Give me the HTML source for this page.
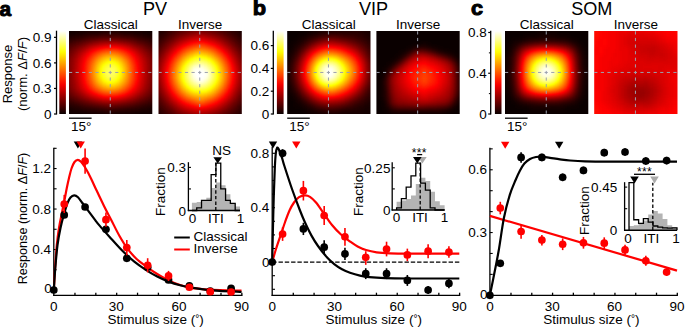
<!DOCTYPE html>
<html lang="en"><head><meta charset="utf-8"><title>Figure</title>
<style>html,body{margin:0;padding:0;background:#fff}svg{display:block}text{font-family:"Liberation Sans",sans-serif;fill:#000}</style></head><body>
<svg width="685" height="328" viewBox="0 0 685 328">
<defs>
<filter id="hot" x="-5%" y="-5%" width="110%" height="110%" color-interpolation-filters="sRGB"><feGaussianBlur stdDeviation="2.6"/><feComponentTransfer><feFuncR type="table" tableValues="0.042 0.083 0.125 0.167 0.208 0.250 0.292 0.333 0.375 0.417 0.458 0.500 0.542 0.583 0.625 0.667 0.708 0.750 0.792 0.833 0.875 0.917 0.958 1.000 1.000 1.000 1.000 1.000 1.000 1.000 1.000 1.000 1.000 1.000 1.000 1.000 1.000 1.000 1.000 1.000 1.000 1.000 1.000 1.000 1.000 1.000 1.000 1.000 1.000 1.000 1.000 1.000 1.000 1.000 1.000 1.000 1.000 1.000 1.000 1.000 1.000 1.000 1.000 1.000"/><feFuncG type="table" tableValues="0.000 0.000 0.000 0.000 0.000 0.000 0.000 0.000 0.000 0.000 0.000 0.000 0.000 0.000 0.000 0.000 0.000 0.000 0.000 0.000 0.000 0.000 0.000 0.000 0.042 0.083 0.125 0.167 0.208 0.250 0.292 0.333 0.375 0.417 0.458 0.500 0.542 0.583 0.625 0.667 0.708 0.750 0.792 0.833 0.875 0.917 0.958 1.000 1.000 1.000 1.000 1.000 1.000 1.000 1.000 1.000 1.000 1.000 1.000 1.000 1.000 1.000 1.000 1.000"/><feFuncB type="table" tableValues="0.000 0.000 0.000 0.000 0.000 0.000 0.000 0.000 0.000 0.000 0.000 0.000 0.000 0.000 0.000 0.000 0.000 0.000 0.000 0.000 0.000 0.000 0.000 0.000 0.000 0.000 0.000 0.000 0.000 0.000 0.000 0.000 0.000 0.000 0.000 0.000 0.000 0.000 0.000 0.000 0.000 0.000 0.000 0.000 0.000 0.000 0.000 0.000 0.062 0.125 0.187 0.250 0.312 0.375 0.437 0.500 0.562 0.625 0.687 0.750 0.812 0.875 0.937 1.000"/><feFuncA type="linear" slope="0" intercept="1"/></feComponentTransfer></filter>
<linearGradient id="cbar" x1="0" y1="1" x2="0" y2="0"><stop offset="0" stop-color="#0b0000"/><stop offset="0.05" stop-color="#2c0000"/><stop offset="0.1" stop-color="#4e0000"/><stop offset="0.15" stop-color="#6f0000"/><stop offset="0.2" stop-color="#900000"/><stop offset="0.25" stop-color="#b20000"/><stop offset="0.3" stop-color="#d30000"/><stop offset="0.35" stop-color="#f50000"/><stop offset="0.4" stop-color="#ff1700"/><stop offset="0.45" stop-color="#ff3900"/><stop offset="0.5" stop-color="#ff5a00"/><stop offset="0.55" stop-color="#ff7c00"/><stop offset="0.6" stop-color="#ff9d00"/><stop offset="0.65" stop-color="#ffbf00"/><stop offset="0.7" stop-color="#ffe000"/><stop offset="0.75" stop-color="#ffff04"/><stop offset="0.8" stop-color="#ffff36"/><stop offset="0.85" stop-color="#ffff68"/><stop offset="0.9" stop-color="#ffff9b"/><stop offset="0.95" stop-color="#ffffcd"/><stop offset="1" stop-color="#ffffff"/></linearGradient>
</defs>
<rect width="685" height="328" fill="#fff"/>
<text x="-0.5" y="15.5" font-size="20.2" font-weight="bold" stroke="#000" stroke-width="1.0" stroke-linejoin="round" transform="translate(-0.5 0) scale(1.03 1) translate(0.5 0)">a</text>
<text x="252.7" y="15.3" font-size="21" font-weight="bold" stroke="#000" stroke-width="1.0" stroke-linejoin="round" transform="translate(252.7 0) scale(1.04 1) translate(-252.7 0)">b</text>
<text x="470.9" y="15.2" font-size="20.2" font-weight="bold" stroke="#000" stroke-width="1.0" stroke-linejoin="round" transform="translate(470.9 0) scale(1.07 1) translate(-470.9 0)">c</text>
<text x="155" y="15" text-anchor="middle" font-size="18.1">PV</text>
<text x="110.65" y="28.6" text-anchor="middle" font-size="13.5">Classical</text>
<clipPath id="cpa0"><rect x="69" y="31" width="83.3" height="83"/></clipPath>
<g clip-path="url(#cpa0)"><g filter="url(#hot)">
<rect x="57" y="19" width="108" height="108" fill="#000"/>
<path fill="#000000" d="M57 19h108v4h-108zM57 23h108v4h-108zM57 27h20v4h-20zM145 27h20v4h-20zM57 111h4v4h-4zM157 111h8v4h-8zM57 115h32v4h-32zM133 115h32v4h-32zM57 119h108v4h-108zM57 123h108v4h-108z"/>
<path fill="#030303" d="M77 27h68v4h-68zM57 31h16v4h-16zM145 31h20v4h-20zM57 35h4v4h-4zM161 35h4v4h-4zM57 107h8v4h-8zM157 107h8v4h-8zM61 111h24v4h-24zM137 111h20v4h-20zM89 115h44v4h-44z"/>
<path fill="#050505" d="M73 31h12v4h-12zM133 31h12v4h-12zM61 35h8v4h-8zM153 35h8v4h-8zM161 39h4v4h-4zM57 103h4v4h-4zM161 103h4v4h-4zM65 107h8v4h-8zM149 107h8v4h-8zM85 111h20v4h-20zM113 111h24v4h-24z"/>
<path fill="#080808" d="M85 31h16v4h-16zM121 31h12v4h-12zM69 35h4v4h-4zM145 35h8v4h-8zM57 39h8v4h-8zM157 39h4v4h-4zM57 99h4v4h-4zM161 99h4v4h-4zM61 103h8v4h-8zM153 103h8v4h-8zM73 107h8v4h-8zM141 107h8v4h-8zM105 111h8v4h-8z"/>
<path fill="#0b0b0b" d="M101 31h20v4h-20zM73 35h8v4h-8zM141 35h4v4h-4zM65 39h4v4h-4zM153 39h4v4h-4zM57 43h4v4h-4zM161 43h4v4h-4zM157 99h4v4h-4zM69 103h4v4h-4zM149 103h4v4h-4zM81 107h8v4h-8zM133 107h8v4h-8z"/>
<path fill="#0d0d0d" d="M81 35h4v4h-4zM137 35h4v4h-4zM149 39h4v4h-4zM61 43h4v4h-4zM157 43h4v4h-4zM161 47h4v4h-4zM57 95h4v4h-4zM161 95h4v4h-4zM61 99h4v4h-4zM73 103h4v4h-4zM145 103h4v4h-4zM89 107h8v4h-8zM125 107h8v4h-8z"/>
<path fill="#101010" d="M85 35h4v4h-4zM133 35h4v4h-4zM69 39h4v4h-4zM57 47h4v4h-4zM161 51h4v4h-4zM57 91h4v4h-4zM161 91h4v4h-4zM157 95h4v4h-4zM65 99h4v4h-4zM153 99h4v4h-4zM77 103h4v4h-4zM141 103h4v4h-4zM97 107h8v4h-8zM117 107h8v4h-8z"/>
<path fill="#131313" d="M89 35h8v4h-8zM125 35h8v4h-8zM73 39h4v4h-4zM145 39h4v4h-4zM65 43h4v4h-4zM153 43h4v4h-4zM61 47h4v4h-4zM157 47h4v4h-4zM57 51h4v4h-4zM161 55h4v4h-4zM57 87h4v4h-4zM161 87h4v4h-4zM61 95h4v4h-4zM69 99h4v4h-4zM149 99h4v4h-4zM137 103h4v4h-4zM105 107h12v4h-12z"/>
<path fill="#151515" d="M97 35h4v4h-4zM121 35h4v4h-4zM77 39h4v4h-4zM141 39h4v4h-4zM149 43h4v4h-4zM57 55h4v4h-4zM57 59h4v4h-4zM161 59h4v4h-4zM57 63h4v4h-4zM161 63h4v4h-4zM57 67h4v4h-4zM161 67h4v4h-4zM57 71h4v4h-4zM161 71h4v4h-4zM57 75h4v4h-4zM161 75h4v4h-4zM57 79h4v4h-4zM161 79h4v4h-4zM57 83h4v4h-4zM161 83h4v4h-4zM61 91h4v4h-4zM157 91h4v4h-4zM65 95h4v4h-4zM153 95h4v4h-4zM81 103h4v4h-4z"/>
<path fill="#181818" d="M101 35h20v4h-20zM137 39h4v4h-4zM69 43h4v4h-4zM65 47h4v4h-4zM153 47h4v4h-4zM61 51h4v4h-4zM157 51h4v4h-4zM157 87h4v4h-4zM73 99h4v4h-4zM145 99h4v4h-4zM85 103h4v4h-4zM133 103h4v4h-4z"/>
<path fill="#1b1b1b" d="M81 39h4v4h-4zM145 43h4v4h-4zM61 55h4v4h-4zM157 55h4v4h-4zM157 59h4v4h-4zM157 63h4v4h-4zM157 75h4v4h-4zM157 79h4v4h-4zM157 83h4v4h-4zM61 87h4v4h-4zM153 91h4v4h-4zM149 95h4v4h-4zM89 103h4v4h-4zM129 103h4v4h-4z"/>
<path fill="#1e1e1e" d="M85 39h4v4h-4zM133 39h4v4h-4zM73 43h4v4h-4zM149 47h4v4h-4zM153 51h4v4h-4zM61 59h4v4h-4zM61 63h4v4h-4zM61 67h4v4h-4zM157 67h4v4h-4zM61 71h4v4h-4zM157 71h4v4h-4zM61 75h4v4h-4zM61 79h4v4h-4zM61 83h4v4h-4zM65 91h4v4h-4zM69 95h4v4h-4zM77 99h4v4h-4zM141 99h4v4h-4zM93 103h4v4h-4zM125 103h4v4h-4z"/>
<path fill="#202020" d="M69 47h4v4h-4zM65 51h4v4h-4zM153 55h4v4h-4zM153 87h4v4h-4zM97 103h4v4h-4zM121 103h4v4h-4z"/>
<path fill="#232323" d="M89 39h4v4h-4zM129 39h4v4h-4zM77 43h4v4h-4zM141 43h4v4h-4zM65 55h4v4h-4zM153 59h4v4h-4zM153 79h4v4h-4zM153 83h4v4h-4zM65 87h4v4h-4zM149 91h4v4h-4zM73 95h4v4h-4zM145 95h4v4h-4zM81 99h4v4h-4zM137 99h4v4h-4zM101 103h4v4h-4zM117 103h4v4h-4z"/>
<path fill="#262626" d="M93 39h4v4h-4zM125 39h4v4h-4zM145 47h4v4h-4zM149 51h4v4h-4zM65 59h4v4h-4zM65 63h4v4h-4zM153 63h4v4h-4zM65 67h4v4h-4zM153 67h4v4h-4zM65 71h4v4h-4zM153 71h4v4h-4zM65 75h4v4h-4zM153 75h4v4h-4zM65 79h4v4h-4zM65 83h4v4h-4zM69 91h4v4h-4zM105 103h12v4h-12z"/>
<path fill="#282828" d="M121 39h4v4h-4zM81 43h4v4h-4zM137 43h4v4h-4zM73 47h4v4h-4zM69 51h4v4h-4zM149 87h4v4h-4zM141 95h4v4h-4zM85 99h4v4h-4zM133 99h4v4h-4z"/>
<path fill="#2b2b2b" d="M97 39h4v4h-4zM117 39h4v4h-4zM69 55h4v4h-4zM149 55h4v4h-4zM149 83h4v4h-4zM69 87h4v4h-4zM145 91h4v4h-4zM77 95h4v4h-4z"/>
<path fill="#2e2e2e" d="M101 39h16v4h-16zM133 43h4v4h-4zM141 47h4v4h-4zM145 51h4v4h-4zM149 59h4v4h-4zM149 63h4v4h-4zM149 67h4v4h-4zM149 71h4v4h-4zM149 75h4v4h-4zM149 79h4v4h-4zM69 83h4v4h-4zM73 91h4v4h-4zM89 99h4v4h-4zM129 99h4v4h-4z"/>
<path fill="#303030" d="M85 43h4v4h-4zM77 47h4v4h-4zM73 51h4v4h-4zM69 59h4v4h-4zM69 63h4v4h-4zM69 67h4v4h-4zM69 71h4v4h-4zM69 75h4v4h-4zM69 79h4v4h-4zM137 95h4v4h-4z"/>
<path fill="#333333" d="M145 87h4v4h-4zM81 95h4v4h-4zM93 99h4v4h-4zM125 99h4v4h-4z"/>
<path fill="#363636" d="M129 43h4v4h-4zM73 55h4v4h-4zM145 55h4v4h-4zM145 83h4v4h-4zM73 87h4v4h-4zM77 91h4v4h-4zM141 91h4v4h-4z"/>
<path fill="#383838" d="M89 43h4v4h-4zM81 47h4v4h-4zM137 47h4v4h-4zM141 51h4v4h-4zM145 59h4v4h-4zM145 79h4v4h-4zM73 83h4v4h-4zM97 99h4v4h-4zM121 99h4v4h-4z"/>
<path fill="#3b3b3b" d="M77 51h4v4h-4zM73 59h4v4h-4zM73 63h4v4h-4zM145 63h4v4h-4zM145 67h4v4h-4zM145 71h4v4h-4zM145 75h4v4h-4zM73 79h4v4h-4zM85 95h4v4h-4zM133 95h4v4h-4zM117 99h4v4h-4z"/>
<path fill="#3e3e3e" d="M93 43h4v4h-4zM125 43h4v4h-4zM73 67h4v4h-4zM73 71h4v4h-4zM73 75h4v4h-4zM141 87h4v4h-4zM101 99h4v4h-4zM113 99h4v4h-4z"/>
<path fill="#404040" d="M133 47h4v4h-4zM141 55h4v4h-4zM77 87h4v4h-4zM81 91h4v4h-4zM137 91h4v4h-4zM105 99h8v4h-8z"/>
<path fill="#434343" d="M97 43h4v4h-4zM121 43h4v4h-4zM85 47h4v4h-4zM137 51h4v4h-4zM77 55h4v4h-4zM141 83h4v4h-4zM89 95h4v4h-4zM129 95h4v4h-4z"/>
<path fill="#464646" d="M81 51h4v4h-4zM141 59h4v4h-4zM141 79h4v4h-4zM77 83h4v4h-4z"/>
<path fill="#484848" d="M101 43h4v4h-4zM117 43h4v4h-4zM77 59h4v4h-4zM141 63h4v4h-4zM141 67h4v4h-4zM141 71h4v4h-4zM141 75h4v4h-4zM77 79h4v4h-4z"/>
<path fill="#4b4b4b" d="M105 43h12v4h-12zM129 47h4v4h-4zM77 63h4v4h-4zM77 67h4v4h-4zM77 71h4v4h-4zM77 75h4v4h-4zM137 87h4v4h-4zM133 91h4v4h-4zM93 95h4v4h-4zM125 95h4v4h-4z"/>
<path fill="#4e4e4e" d="M89 47h4v4h-4zM137 55h4v4h-4zM81 87h4v4h-4zM85 91h4v4h-4z"/>
<path fill="#515151" d="M133 51h4v4h-4zM81 55h4v4h-4zM137 83h4v4h-4z"/>
<path fill="#535353" d="M85 51h4v4h-4zM137 59h4v4h-4zM81 83h4v4h-4zM97 95h4v4h-4zM121 95h4v4h-4z"/>
<path fill="#565656" d="M93 47h4v4h-4zM125 47h4v4h-4zM81 59h4v4h-4zM137 63h4v4h-4zM137 79h4v4h-4zM129 91h4v4h-4z"/>
<path fill="#595959" d="M137 67h4v4h-4zM137 71h4v4h-4zM137 75h4v4h-4zM81 79h4v4h-4zM133 87h4v4h-4zM89 91h4v4h-4zM117 95h4v4h-4z"/>
<path fill="#5b5b5b" d="M133 55h4v4h-4zM81 63h4v4h-4zM81 67h4v4h-4zM81 71h4v4h-4zM81 75h4v4h-4zM85 87h4v4h-4zM101 95h4v4h-4z"/>
<path fill="#5e5e5e" d="M97 47h4v4h-4zM121 47h4v4h-4zM129 51h4v4h-4zM85 55h4v4h-4zM105 95h12v4h-12z"/>
<path fill="#616161" d="M89 51h4v4h-4zM133 83h4v4h-4z"/>
<path fill="#636363" d="M133 59h4v4h-4zM85 83h4v4h-4zM93 91h4v4h-4zM125 91h4v4h-4z"/>
<path fill="#666666" d="M101 47h4v4h-4zM117 47h4v4h-4zM129 87h4v4h-4z"/>
<path fill="#696969" d="M85 59h4v4h-4zM133 63h4v4h-4zM133 79h4v4h-4zM89 87h4v4h-4z"/>
<path fill="#6b6b6b" d="M105 47h12v4h-12zM125 51h4v4h-4zM129 55h4v4h-4zM85 63h4v4h-4zM133 67h4v4h-4zM133 71h4v4h-4zM133 75h4v4h-4zM85 79h4v4h-4z"/>
<path fill="#6e6e6e" d="M93 51h4v4h-4zM89 55h4v4h-4zM85 67h4v4h-4zM85 71h4v4h-4zM85 75h4v4h-4zM97 91h4v4h-4zM121 91h4v4h-4z"/>
<path fill="#737373" d="M129 83h4v4h-4z"/>
<path fill="#767676" d="M121 51h4v4h-4zM129 59h4v4h-4zM89 83h4v4h-4zM125 87h4v4h-4zM117 91h4v4h-4z"/>
<path fill="#797979" d="M97 51h4v4h-4zM89 59h4v4h-4zM93 87h4v4h-4zM101 91h4v4h-4z"/>
<path fill="#7b7b7b" d="M125 55h4v4h-4zM129 79h4v4h-4zM113 91h4v4h-4z"/>
<path fill="#7e7e7e" d="M93 55h4v4h-4zM129 63h4v4h-4zM89 79h4v4h-4zM105 91h8v4h-8z"/>
<path fill="#818181" d="M117 51h4v4h-4zM89 63h4v4h-4zM129 67h4v4h-4zM129 71h4v4h-4zM129 75h4v4h-4z"/>
<path fill="#848484" d="M101 51h4v4h-4zM89 67h4v4h-4zM89 75h4v4h-4zM121 87h4v4h-4z"/>
<path fill="#868686" d="M89 71h4v4h-4zM125 83h4v4h-4zM97 87h4v4h-4z"/>
<path fill="#898989" d="M105 51h4v4h-4zM113 51h4v4h-4zM93 83h4v4h-4z"/>
<path fill="#8c8c8c" d="M109 51h4v4h-4zM121 55h4v4h-4zM125 59h4v4h-4z"/>
<path fill="#8e8e8e" d="M97 55h4v4h-4zM93 59h4v4h-4z"/>
<path fill="#919191" d="M125 79h4v4h-4zM101 87h4v4h-4zM117 87h4v4h-4z"/>
<path fill="#949494" d="M125 63h4v4h-4zM93 79h4v4h-4z"/>
<path fill="#969696" d="M93 63h4v4h-4zM125 75h4v4h-4zM121 83h4v4h-4z"/>
<path fill="#999999" d="M117 55h4v4h-4zM125 67h4v4h-4zM125 71h4v4h-4zM97 83h4v4h-4zM105 87h4v4h-4zM113 87h4v4h-4z"/>
<path fill="#9c9c9c" d="M101 55h4v4h-4zM93 67h4v4h-4zM93 75h4v4h-4zM109 87h4v4h-4z"/>
<path fill="#9e9e9e" d="M121 59h4v4h-4zM93 71h4v4h-4z"/>
<path fill="#a1a1a1" d="M97 59h4v4h-4z"/>
<path fill="#a4a4a4" d="M105 55h4v4h-4zM113 55h4v4h-4zM121 79h4v4h-4z"/>
<path fill="#a6a6a6" d="M109 55h4v4h-4zM117 83h4v4h-4z"/>
<path fill="#a9a9a9" d="M121 63h4v4h-4zM97 79h4v4h-4zM101 83h4v4h-4z"/>
<path fill="#acacac" d="M97 63h4v4h-4z"/>
<path fill="#aeaeae" d="M101 59h4v4h-4zM117 59h4v4h-4zM121 75h4v4h-4z"/>
<path fill="#b1b1b1" d="M121 67h4v4h-4zM121 71h4v4h-4zM97 75h4v4h-4zM105 83h4v4h-4zM113 83h4v4h-4z"/>
<path fill="#b4b4b4" d="M97 67h4v4h-4zM97 71h4v4h-4zM109 83h4v4h-4z"/>
<path fill="#b7b7b7" d="M117 79h4v4h-4z"/>
<path fill="#b9b9b9" d="M105 59h4v4h-4zM113 59h4v4h-4zM101 79h4v4h-4z"/>
<path fill="#bcbcbc" d="M117 63h4v4h-4z"/>
<path fill="#bfbfbf" d="M109 59h4v4h-4zM101 63h4v4h-4z"/>
<path fill="#c1c1c1" d="M117 75h4v4h-4z"/>
<path fill="#c4c4c4" d="M117 67h4v4h-4zM101 75h4v4h-4zM105 79h4v4h-4zM113 79h4v4h-4z"/>
<path fill="#c7c7c7" d="M101 67h4v4h-4zM117 71h4v4h-4z"/>
<path fill="#c9c9c9" d="M105 63h4v4h-4zM113 63h4v4h-4zM101 71h4v4h-4zM109 79h4v4h-4z"/>
<path fill="#cfcfcf" d="M109 63h4v4h-4z"/>
<path fill="#d1d1d1" d="M105 75h4v4h-4zM113 75h4v4h-4z"/>
<path fill="#d4d4d4" d="M105 67h4v4h-4zM113 67h4v4h-4z"/>
<path fill="#d7d7d7" d="M105 71h4v4h-4zM113 71h4v4h-4zM109 75h4v4h-4z"/>
<path fill="#d9d9d9" d="M109 67h4v4h-4z"/>
<path fill="#dcdcdc" d="M109 71h4v4h-4z"/>
</g></g>
<line x1="69" y1="72.45" x2="152.3" y2="72.45" stroke="#9ba0ae" stroke-width="1" stroke-dasharray="3.2 3.4"/>
<line x1="110.25" y1="31" x2="110.25" y2="114" stroke="#9ba0ae" stroke-width="1" stroke-dasharray="3.2 3.4" stroke-dashoffset="-0.3"/>
<text x="200.15" y="28.6" text-anchor="middle" font-size="13.5">Inverse</text>
<clipPath id="cpa1"><rect x="158.5" y="31" width="83.3" height="83"/></clipPath>
<g clip-path="url(#cpa1)"><g filter="url(#hot)">
<rect x="146.5" y="19" width="108" height="108" fill="#000"/>
<path fill="#000000" d="M146.5 19h8v4h-8zM246.5 19h8v4h-8zM146.5 23h4v4h-4zM250.5 23h4v4h-4zM146.5 123h4v4h-4zM250.5 123h4v4h-4z"/>
<path fill="#030303" d="M154.5 19h12v4h-12zM234.5 19h12v4h-12zM150.5 23h8v4h-8zM238.5 23h12v4h-12zM146.5 27h8v4h-8zM246.5 27h8v4h-8zM146.5 31h4v4h-4zM250.5 31h4v4h-4zM250.5 35h4v4h-4zM146.5 111h4v4h-4zM250.5 111h4v4h-4zM146.5 115h4v4h-4zM246.5 115h8v4h-8zM146.5 119h8v4h-8zM242.5 119h12v4h-12zM150.5 123h12v4h-12zM238.5 123h12v4h-12z"/>
<path fill="#050505" d="M166.5 19h8v4h-8zM226.5 19h8v4h-8zM158.5 23h8v4h-8zM234.5 23h4v4h-4zM154.5 27h8v4h-8zM238.5 27h8v4h-8zM150.5 31h4v4h-4zM242.5 31h8v4h-8zM146.5 35h8v4h-8zM246.5 35h4v4h-4zM146.5 39h4v4h-4zM250.5 39h4v4h-4zM146.5 107h4v4h-4zM250.5 107h4v4h-4zM150.5 111h4v4h-4zM246.5 111h4v4h-4zM150.5 115h8v4h-8zM242.5 115h4v4h-4zM154.5 119h8v4h-8zM238.5 119h4v4h-4zM162.5 123h4v4h-4zM234.5 123h4v4h-4z"/>
<path fill="#080808" d="M174.5 19h4v4h-4zM222.5 19h4v4h-4zM166.5 23h4v4h-4zM230.5 23h4v4h-4zM162.5 27h4v4h-4zM234.5 27h4v4h-4zM154.5 31h4v4h-4zM238.5 31h4v4h-4zM242.5 35h4v4h-4zM150.5 39h4v4h-4zM246.5 39h4v4h-4zM146.5 43h4v4h-4zM250.5 43h4v4h-4zM250.5 47h4v4h-4zM250.5 99h4v4h-4zM146.5 103h4v4h-4zM250.5 103h4v4h-4zM150.5 107h4v4h-4zM246.5 107h4v4h-4zM154.5 111h4v4h-4zM242.5 111h4v4h-4zM158.5 115h4v4h-4zM238.5 115h4v4h-4zM162.5 119h4v4h-4zM234.5 119h4v4h-4zM166.5 123h4v4h-4zM226.5 123h8v4h-8z"/>
<path fill="#0b0b0b" d="M178.5 19h8v4h-8zM214.5 19h8v4h-8zM170.5 23h4v4h-4zM226.5 23h4v4h-4zM230.5 27h4v4h-4zM158.5 31h4v4h-4zM154.5 35h4v4h-4zM150.5 43h4v4h-4zM246.5 43h4v4h-4zM146.5 47h4v4h-4zM250.5 51h4v4h-4zM146.5 95h4v4h-4zM250.5 95h4v4h-4zM146.5 99h4v4h-4zM150.5 103h4v4h-4zM246.5 103h4v4h-4zM242.5 107h4v4h-4zM234.5 115h4v4h-4zM166.5 119h4v4h-4zM230.5 119h4v4h-4zM170.5 123h8v4h-8zM222.5 123h4v4h-4z"/>
<path fill="#0d0d0d" d="M186.5 19h28v4h-28zM174.5 23h4v4h-4zM222.5 23h4v4h-4zM166.5 27h4v4h-4zM162.5 31h4v4h-4zM234.5 31h4v4h-4zM158.5 35h4v4h-4zM238.5 35h4v4h-4zM154.5 39h4v4h-4zM242.5 39h4v4h-4zM246.5 47h4v4h-4zM146.5 51h4v4h-4zM250.5 55h4v4h-4zM146.5 91h4v4h-4zM250.5 91h4v4h-4zM150.5 99h4v4h-4zM246.5 99h4v4h-4zM154.5 107h4v4h-4zM158.5 111h4v4h-4zM238.5 111h4v4h-4zM162.5 115h4v4h-4zM170.5 119h4v4h-4zM226.5 119h4v4h-4zM178.5 123h4v4h-4zM218.5 123h4v4h-4z"/>
<path fill="#101010" d="M178.5 23h4v4h-4zM218.5 23h4v4h-4zM170.5 27h4v4h-4zM226.5 27h4v4h-4zM230.5 31h4v4h-4zM242.5 43h4v4h-4zM150.5 47h4v4h-4zM146.5 55h4v4h-4zM146.5 59h4v4h-4zM250.5 59h4v4h-4zM250.5 63h4v4h-4zM250.5 83h4v4h-4zM146.5 87h4v4h-4zM250.5 87h4v4h-4zM246.5 95h4v4h-4zM154.5 103h4v4h-4zM242.5 103h4v4h-4zM238.5 107h4v4h-4zM234.5 111h4v4h-4zM166.5 115h4v4h-4zM230.5 115h4v4h-4zM222.5 119h4v4h-4zM182.5 123h4v4h-4zM214.5 123h4v4h-4z"/>
<path fill="#131313" d="M182.5 23h8v4h-8zM210.5 23h8v4h-8zM174.5 27h4v4h-4zM222.5 27h4v4h-4zM166.5 31h4v4h-4zM162.5 35h4v4h-4zM234.5 35h4v4h-4zM158.5 39h4v4h-4zM238.5 39h4v4h-4zM154.5 43h4v4h-4zM150.5 51h4v4h-4zM246.5 51h4v4h-4zM146.5 63h4v4h-4zM146.5 67h4v4h-4zM250.5 67h4v4h-4zM250.5 71h4v4h-4zM250.5 75h4v4h-4zM146.5 79h4v4h-4zM250.5 79h4v4h-4zM146.5 83h4v4h-4zM246.5 91h4v4h-4zM150.5 95h4v4h-4zM242.5 99h4v4h-4zM158.5 107h4v4h-4zM162.5 111h4v4h-4zM174.5 119h4v4h-4zM186.5 123h8v4h-8zM206.5 123h8v4h-8z"/>
<path fill="#151515" d="M190.5 23h4v4h-4zM202.5 23h8v4h-8zM218.5 27h4v4h-4zM226.5 31h4v4h-4zM154.5 47h4v4h-4zM242.5 47h4v4h-4zM150.5 55h4v4h-4zM246.5 55h4v4h-4zM146.5 71h4v4h-4zM146.5 75h4v4h-4zM150.5 91h4v4h-4zM154.5 99h4v4h-4zM238.5 103h4v4h-4zM230.5 111h4v4h-4zM170.5 115h4v4h-4zM226.5 115h4v4h-4zM178.5 119h4v4h-4zM218.5 119h4v4h-4zM194.5 123h12v4h-12z"/>
<path fill="#181818" d="M194.5 23h8v4h-8zM178.5 27h4v4h-4zM170.5 31h4v4h-4zM166.5 35h4v4h-4zM230.5 35h4v4h-4zM234.5 39h4v4h-4zM158.5 43h4v4h-4zM238.5 43h4v4h-4zM246.5 59h4v4h-4zM150.5 87h4v4h-4zM246.5 87h4v4h-4zM242.5 95h4v4h-4zM158.5 103h4v4h-4zM162.5 107h4v4h-4zM234.5 107h4v4h-4zM166.5 111h4v4h-4zM182.5 119h4v4h-4zM214.5 119h4v4h-4z"/>
<path fill="#1b1b1b" d="M182.5 27h4v4h-4zM214.5 27h4v4h-4zM222.5 31h4v4h-4zM162.5 39h4v4h-4zM154.5 51h4v4h-4zM242.5 51h4v4h-4zM150.5 59h4v4h-4zM246.5 63h4v4h-4zM246.5 67h4v4h-4zM246.5 79h4v4h-4zM150.5 83h4v4h-4zM246.5 83h4v4h-4zM154.5 95h4v4h-4zM174.5 115h4v4h-4zM222.5 115h4v4h-4zM186.5 119h4v4h-4zM210.5 119h4v4h-4z"/>
<path fill="#1e1e1e" d="M186.5 27h4v4h-4zM210.5 27h4v4h-4zM174.5 31h4v4h-4zM238.5 47h4v4h-4zM242.5 55h4v4h-4zM150.5 63h4v4h-4zM150.5 67h4v4h-4zM246.5 71h4v4h-4zM246.5 75h4v4h-4zM150.5 79h4v4h-4zM242.5 91h4v4h-4zM158.5 99h4v4h-4zM238.5 99h4v4h-4zM234.5 103h4v4h-4zM170.5 111h4v4h-4zM226.5 111h4v4h-4zM218.5 115h4v4h-4zM190.5 119h4v4h-4zM206.5 119h4v4h-4z"/>
<path fill="#202020" d="M190.5 27h4v4h-4zM206.5 27h4v4h-4zM218.5 31h4v4h-4zM170.5 35h4v4h-4zM226.5 35h4v4h-4zM230.5 39h4v4h-4zM234.5 43h4v4h-4zM158.5 47h4v4h-4zM154.5 55h4v4h-4zM150.5 71h4v4h-4zM150.5 75h4v4h-4zM154.5 91h4v4h-4zM162.5 103h4v4h-4zM166.5 107h4v4h-4zM230.5 107h4v4h-4zM178.5 115h4v4h-4zM194.5 119h12v4h-12z"/>
<path fill="#232323" d="M194.5 27h12v4h-12zM178.5 31h4v4h-4zM166.5 39h4v4h-4zM162.5 43h4v4h-4zM242.5 59h4v4h-4zM242.5 87h4v4h-4zM238.5 95h4v4h-4zM222.5 111h4v4h-4zM214.5 115h4v4h-4z"/>
<path fill="#262626" d="M214.5 31h4v4h-4zM222.5 35h4v4h-4zM238.5 51h4v4h-4zM154.5 59h4v4h-4zM242.5 63h4v4h-4zM242.5 83h4v4h-4zM154.5 87h4v4h-4zM158.5 95h4v4h-4zM174.5 111h4v4h-4zM182.5 115h4v4h-4z"/>
<path fill="#282828" d="M182.5 31h4v4h-4zM174.5 35h4v4h-4zM234.5 47h4v4h-4zM158.5 51h4v4h-4zM154.5 63h4v4h-4zM242.5 67h4v4h-4zM242.5 79h4v4h-4zM154.5 83h4v4h-4zM162.5 99h4v4h-4zM234.5 99h4v4h-4zM230.5 103h4v4h-4zM170.5 107h4v4h-4zM226.5 107h4v4h-4zM186.5 115h4v4h-4zM210.5 115h4v4h-4z"/>
<path fill="#2b2b2b" d="M186.5 31h4v4h-4zM210.5 31h4v4h-4zM170.5 39h4v4h-4zM226.5 39h4v4h-4zM230.5 43h4v4h-4zM162.5 47h4v4h-4zM238.5 55h4v4h-4zM154.5 67h4v4h-4zM242.5 71h4v4h-4zM242.5 75h4v4h-4zM154.5 79h4v4h-4zM238.5 91h4v4h-4zM166.5 103h4v4h-4zM218.5 111h4v4h-4zM206.5 115h4v4h-4z"/>
<path fill="#2e2e2e" d="M206.5 31h4v4h-4zM218.5 35h4v4h-4zM166.5 43h4v4h-4zM158.5 55h4v4h-4zM154.5 71h4v4h-4zM154.5 75h4v4h-4zM158.5 91h4v4h-4zM178.5 111h4v4h-4zM190.5 115h8v4h-8zM202.5 115h4v4h-4z"/>
<path fill="#303030" d="M190.5 31h4v4h-4zM202.5 31h4v4h-4zM178.5 35h4v4h-4zM238.5 59h4v4h-4zM238.5 87h4v4h-4zM234.5 95h4v4h-4zM222.5 107h4v4h-4zM198.5 115h4v4h-4z"/>
<path fill="#333333" d="M194.5 31h8v4h-8zM222.5 39h4v4h-4zM234.5 51h4v4h-4zM158.5 87h4v4h-4zM162.5 95h4v4h-4zM230.5 99h4v4h-4zM226.5 103h4v4h-4zM174.5 107h4v4h-4zM182.5 111h4v4h-4zM214.5 111h4v4h-4z"/>
<path fill="#363636" d="M182.5 35h4v4h-4zM214.5 35h4v4h-4zM174.5 39h4v4h-4zM226.5 43h4v4h-4zM230.5 47h4v4h-4zM162.5 51h4v4h-4zM158.5 59h4v4h-4zM238.5 63h4v4h-4zM238.5 83h4v4h-4zM166.5 99h4v4h-4zM170.5 103h4v4h-4z"/>
<path fill="#383838" d="M170.5 43h4v4h-4zM166.5 47h4v4h-4zM238.5 79h4v4h-4zM158.5 83h4v4h-4zM234.5 91h4v4h-4zM186.5 111h4v4h-4zM210.5 111h4v4h-4z"/>
<path fill="#3b3b3b" d="M210.5 35h4v4h-4zM234.5 55h4v4h-4zM158.5 63h4v4h-4zM238.5 67h4v4h-4zM238.5 71h4v4h-4zM238.5 75h4v4h-4zM162.5 91h4v4h-4zM218.5 107h4v4h-4z"/>
<path fill="#3e3e3e" d="M186.5 35h4v4h-4zM218.5 39h4v4h-4zM162.5 55h4v4h-4zM158.5 67h4v4h-4zM158.5 79h4v4h-4zM178.5 107h4v4h-4zM190.5 111h4v4h-4zM206.5 111h4v4h-4z"/>
<path fill="#404040" d="M206.5 35h4v4h-4zM178.5 39h4v4h-4zM230.5 51h4v4h-4zM158.5 71h4v4h-4zM158.5 75h4v4h-4zM234.5 87h4v4h-4zM230.5 95h4v4h-4zM222.5 103h4v4h-4zM194.5 111h12v4h-12z"/>
<path fill="#434343" d="M190.5 35h4v4h-4zM222.5 43h4v4h-4zM234.5 59h4v4h-4zM166.5 95h4v4h-4zM226.5 99h4v4h-4zM174.5 103h4v4h-4zM214.5 107h4v4h-4z"/>
<path fill="#464646" d="M194.5 35h12v4h-12zM174.5 43h4v4h-4zM226.5 47h4v4h-4zM166.5 51h4v4h-4zM162.5 59h4v4h-4zM162.5 87h4v4h-4zM170.5 99h4v4h-4zM182.5 107h4v4h-4z"/>
<path fill="#484848" d="M182.5 39h4v4h-4zM214.5 39h4v4h-4zM170.5 47h4v4h-4zM234.5 63h4v4h-4zM234.5 83h4v4h-4z"/>
<path fill="#4b4b4b" d="M162.5 83h4v4h-4zM230.5 91h4v4h-4zM218.5 103h4v4h-4zM210.5 107h4v4h-4z"/>
<path fill="#4e4e4e" d="M230.5 55h4v4h-4zM162.5 63h4v4h-4zM234.5 67h4v4h-4zM234.5 79h4v4h-4zM166.5 91h4v4h-4zM178.5 103h4v4h-4zM186.5 107h4v4h-4z"/>
<path fill="#515151" d="M186.5 39h4v4h-4zM210.5 39h4v4h-4zM218.5 43h4v4h-4zM166.5 55h4v4h-4zM234.5 71h4v4h-4zM234.5 75h4v4h-4zM162.5 79h4v4h-4zM226.5 95h4v4h-4zM222.5 99h4v4h-4z"/>
<path fill="#535353" d="M178.5 43h4v4h-4zM222.5 47h4v4h-4zM226.5 51h4v4h-4zM162.5 67h4v4h-4zM162.5 75h4v4h-4zM170.5 95h4v4h-4zM174.5 99h4v4h-4zM190.5 107h4v4h-4zM206.5 107h4v4h-4z"/>
<path fill="#565656" d="M206.5 39h4v4h-4zM170.5 51h4v4h-4zM230.5 59h4v4h-4zM162.5 71h4v4h-4zM230.5 87h4v4h-4zM194.5 107h4v4h-4zM202.5 107h4v4h-4z"/>
<path fill="#595959" d="M190.5 39h4v4h-4zM174.5 47h4v4h-4zM166.5 87h4v4h-4zM214.5 103h4v4h-4zM198.5 107h4v4h-4z"/>
<path fill="#5b5b5b" d="M194.5 39h4v4h-4zM202.5 39h4v4h-4zM214.5 43h4v4h-4zM166.5 59h4v4h-4zM182.5 103h4v4h-4z"/>
<path fill="#5e5e5e" d="M198.5 39h4v4h-4zM182.5 43h4v4h-4zM230.5 83h4v4h-4zM226.5 91h4v4h-4z"/>
<path fill="#616161" d="M226.5 55h4v4h-4zM230.5 63h4v4h-4zM218.5 99h4v4h-4z"/>
<path fill="#636363" d="M218.5 47h4v4h-4zM166.5 63h4v4h-4zM230.5 79h4v4h-4zM166.5 83h4v4h-4zM170.5 91h4v4h-4zM222.5 95h4v4h-4zM178.5 99h4v4h-4zM186.5 103h4v4h-4zM210.5 103h4v4h-4z"/>
<path fill="#666666" d="M210.5 43h4v4h-4zM178.5 47h4v4h-4zM222.5 51h4v4h-4zM170.5 55h4v4h-4zM230.5 67h4v4h-4zM174.5 95h4v4h-4z"/>
<path fill="#696969" d="M186.5 43h4v4h-4zM174.5 51h4v4h-4zM230.5 71h4v4h-4zM230.5 75h4v4h-4zM166.5 79h4v4h-4z"/>
<path fill="#6b6b6b" d="M166.5 67h4v4h-4zM226.5 87h4v4h-4zM190.5 103h4v4h-4zM206.5 103h4v4h-4z"/>
<path fill="#6e6e6e" d="M206.5 43h4v4h-4zM226.5 59h4v4h-4zM166.5 71h4v4h-4zM166.5 75h4v4h-4zM214.5 99h4v4h-4z"/>
<path fill="#717171" d="M190.5 43h4v4h-4zM170.5 87h4v4h-4zM182.5 99h4v4h-4zM194.5 103h12v4h-12z"/>
<path fill="#737373" d="M214.5 47h4v4h-4zM170.5 59h4v4h-4zM222.5 91h4v4h-4zM218.5 95h4v4h-4z"/>
<path fill="#767676" d="M194.5 43h12v4h-12zM182.5 47h4v4h-4zM222.5 55h4v4h-4zM226.5 83h4v4h-4zM174.5 91h4v4h-4zM178.5 95h4v4h-4z"/>
<path fill="#797979" d="M218.5 51h4v4h-4zM226.5 63h4v4h-4z"/>
<path fill="#7b7b7b" d="M178.5 51h4v4h-4zM174.5 55h4v4h-4zM170.5 83h4v4h-4zM186.5 99h4v4h-4zM210.5 99h4v4h-4z"/>
<path fill="#7e7e7e" d="M170.5 63h4v4h-4zM226.5 67h4v4h-4zM226.5 79h4v4h-4z"/>
<path fill="#818181" d="M186.5 47h4v4h-4zM210.5 47h4v4h-4zM226.5 75h4v4h-4z"/>
<path fill="#848484" d="M170.5 67h4v4h-4zM226.5 71h4v4h-4zM170.5 79h4v4h-4zM222.5 87h4v4h-4zM214.5 95h4v4h-4zM206.5 99h4v4h-4z"/>
<path fill="#868686" d="M222.5 59h4v4h-4zM174.5 87h4v4h-4zM218.5 91h4v4h-4zM190.5 99h4v4h-4z"/>
<path fill="#898989" d="M206.5 47h4v4h-4zM214.5 51h4v4h-4zM174.5 59h4v4h-4zM170.5 71h4v4h-4zM170.5 75h4v4h-4zM182.5 95h4v4h-4z"/>
<path fill="#8c8c8c" d="M190.5 47h4v4h-4zM182.5 51h4v4h-4zM218.5 55h4v4h-4zM178.5 91h4v4h-4zM194.5 99h12v4h-12z"/>
<path fill="#8e8e8e" d="M178.5 55h4v4h-4zM222.5 83h4v4h-4z"/>
<path fill="#919191" d="M194.5 47h4v4h-4zM202.5 47h4v4h-4zM222.5 63h4v4h-4z"/>
<path fill="#949494" d="M198.5 47h4v4h-4zM174.5 83h4v4h-4zM210.5 95h4v4h-4z"/>
<path fill="#969696" d="M174.5 63h4v4h-4zM186.5 95h4v4h-4z"/>
<path fill="#999999" d="M210.5 51h4v4h-4zM222.5 67h4v4h-4zM222.5 79h4v4h-4zM218.5 87h4v4h-4z"/>
<path fill="#9c9c9c" d="M186.5 51h4v4h-4zM218.5 59h4v4h-4zM214.5 91h4v4h-4z"/>
<path fill="#9e9e9e" d="M214.5 55h4v4h-4zM174.5 67h4v4h-4zM222.5 71h4v4h-4zM222.5 75h4v4h-4zM174.5 79h4v4h-4zM178.5 87h4v4h-4zM182.5 91h4v4h-4zM206.5 95h4v4h-4z"/>
<path fill="#a1a1a1" d="M178.5 59h4v4h-4zM190.5 95h4v4h-4z"/>
<path fill="#a4a4a4" d="M206.5 51h4v4h-4zM182.5 55h4v4h-4zM174.5 71h4v4h-4zM174.5 75h4v4h-4z"/>
<path fill="#a6a6a6" d="M190.5 51h4v4h-4zM194.5 95h4v4h-4zM202.5 95h4v4h-4z"/>
<path fill="#a9a9a9" d="M218.5 83h4v4h-4zM198.5 95h4v4h-4z"/>
<path fill="#acacac" d="M202.5 51h4v4h-4zM218.5 63h4v4h-4zM178.5 83h4v4h-4zM210.5 91h4v4h-4z"/>
<path fill="#aeaeae" d="M194.5 51h8v4h-8zM214.5 87h4v4h-4zM186.5 91h4v4h-4z"/>
<path fill="#b1b1b1" d="M210.5 55h4v4h-4zM178.5 63h4v4h-4z"/>
<path fill="#b4b4b4" d="M186.5 55h4v4h-4zM214.5 59h4v4h-4zM218.5 67h4v4h-4zM218.5 79h4v4h-4zM182.5 87h4v4h-4z"/>
<path fill="#b7b7b7" d="M182.5 59h4v4h-4z"/>
<path fill="#b9b9b9" d="M178.5 67h4v4h-4zM218.5 71h4v4h-4zM218.5 75h4v4h-4zM178.5 79h4v4h-4zM206.5 91h4v4h-4z"/>
<path fill="#bcbcbc" d="M190.5 91h4v4h-4z"/>
<path fill="#bfbfbf" d="M206.5 55h4v4h-4zM178.5 71h4v4h-4zM178.5 75h4v4h-4zM214.5 83h4v4h-4z"/>
<path fill="#c1c1c1" d="M190.5 55h4v4h-4zM210.5 87h4v4h-4zM194.5 91h4v4h-4zM202.5 91h4v4h-4z"/>
<path fill="#c4c4c4" d="M214.5 63h4v4h-4zM182.5 83h4v4h-4zM186.5 87h4v4h-4zM198.5 91h4v4h-4z"/>
<path fill="#c7c7c7" d="M210.5 59h4v4h-4zM182.5 63h4v4h-4z"/>
<path fill="#c9c9c9" d="M194.5 55h4v4h-4zM202.5 55h4v4h-4zM186.5 59h4v4h-4z"/>
<path fill="#cccccc" d="M198.5 55h4v4h-4zM214.5 79h4v4h-4z"/>
<path fill="#cfcfcf" d="M214.5 67h4v4h-4z"/>
<path fill="#d1d1d1" d="M182.5 79h4v4h-4zM206.5 87h4v4h-4z"/>
<path fill="#d4d4d4" d="M182.5 67h4v4h-4zM214.5 71h4v4h-4zM214.5 75h4v4h-4zM210.5 83h4v4h-4zM190.5 87h4v4h-4z"/>
<path fill="#d7d7d7" d="M206.5 59h4v4h-4z"/>
<path fill="#d9d9d9" d="M190.5 59h4v4h-4zM210.5 63h4v4h-4zM182.5 71h4v4h-4zM182.5 75h4v4h-4zM186.5 83h4v4h-4z"/>
<path fill="#dcdcdc" d="M194.5 87h4v4h-4zM202.5 87h4v4h-4z"/>
<path fill="#dfdfdf" d="M186.5 63h4v4h-4zM198.5 87h4v4h-4z"/>
<path fill="#e1e1e1" d="M202.5 59h4v4h-4z"/>
<path fill="#e4e4e4" d="M194.5 59h4v4h-4zM210.5 79h4v4h-4z"/>
<path fill="#e7e7e7" d="M198.5 59h4v4h-4zM210.5 67h4v4h-4zM186.5 79h4v4h-4zM206.5 83h4v4h-4z"/>
<path fill="#eaeaea" d="M190.5 83h4v4h-4z"/>
<path fill="#ececec" d="M206.5 63h4v4h-4zM186.5 67h4v4h-4zM210.5 71h4v4h-4zM210.5 75h4v4h-4z"/>
<path fill="#efefef" d="M190.5 63h4v4h-4z"/>
<path fill="#f2f2f2" d="M186.5 71h4v4h-4zM186.5 75h4v4h-4zM202.5 83h4v4h-4z"/>
<path fill="#f4f4f4" d="M194.5 83h4v4h-4z"/>
<path fill="#f7f7f7" d="M206.5 79h4v4h-4zM198.5 83h4v4h-4z"/>
<path fill="#fafafa" d="M202.5 63h4v4h-4zM190.5 79h4v4h-4z"/>
<path fill="#fcfcfc" d="M194.5 63h4v4h-4zM206.5 67h4v4h-4z"/>
<path fill="#ffffff" d="M198.5 63h4v4h-4zM190.5 67h16v4h-16zM190.5 71h20v4h-20zM190.5 75h20v4h-20zM194.5 79h12v4h-12z"/>
</g></g>
<line x1="158.5" y1="72.45" x2="241.8" y2="72.45" stroke="#9ba0ae" stroke-width="1" stroke-dasharray="3.2 3.4"/>
<line x1="199.75" y1="31" x2="199.75" y2="114" stroke="#9ba0ae" stroke-width="1" stroke-dasharray="3.2 3.4" stroke-dashoffset="-0.3"/>
<rect x="59.3" y="31" width="6.6" height="83" fill="url(#cbar)"/>
<line x1="69" y1="118.2" x2="91.6" y2="118.2" stroke="#000" stroke-width="1.3"/>
<text x="71" y="130.6" text-anchor="start" font-size="13.5">15&#176;</text>
<text x="373.6" y="15" text-anchor="middle" font-size="18.1">VIP</text>
<text x="328.85" y="28.6" text-anchor="middle" font-size="13.5">Classical</text>
<clipPath id="cpb0"><rect x="287.2" y="31" width="83.3" height="83"/></clipPath>
<g clip-path="url(#cpb0)"><g filter="url(#hot)">
<rect x="275.2" y="19" width="108" height="108" fill="#000"/>
<path fill="#000000" d="M275.2 19h68v4h-68zM371.2 19h12v4h-12zM275.2 23h56v4h-56zM375.2 23h8v4h-8zM275.2 27h40v4h-40zM379.2 27h4v4h-4zM275.2 31h32v4h-32zM275.2 35h24v4h-24zM275.2 39h20v4h-20zM275.2 43h16v4h-16zM275.2 47h16v4h-16zM275.2 51h12v4h-12zM275.2 55h12v4h-12zM275.2 59h8v4h-8zM275.2 63h8v4h-8zM275.2 67h8v4h-8zM275.2 71h8v4h-8zM275.2 75h8v4h-8zM275.2 79h8v4h-8zM275.2 83h8v4h-8zM275.2 87h12v4h-12zM275.2 91h12v4h-12zM275.2 95h16v4h-16zM275.2 99h20v4h-20zM275.2 103h20v4h-20zM275.2 107h28v4h-28zM379.2 107h4v4h-4zM275.2 111h32v4h-32zM375.2 111h8v4h-8zM275.2 115h44v4h-44zM371.2 115h12v4h-12zM275.2 119h72v4h-72zM367.2 119h16v4h-16zM275.2 123h108v4h-108z"/>
<path fill="#030303" d="M343.2 19h28v4h-28zM331.2 23h20v4h-20zM363.2 23h12v4h-12zM315.2 27h20v4h-20zM371.2 27h8v4h-8zM307.2 31h4v4h-4zM375.2 31h8v4h-8zM299.2 35h8v4h-8zM375.2 35h8v4h-8zM295.2 39h4v4h-4zM379.2 39h4v4h-4zM291.2 43h4v4h-4zM379.2 43h4v4h-4zM291.2 47h4v4h-4zM287.2 51h4v4h-4zM287.2 55h4v4h-4zM283.2 59h4v4h-4zM283.2 63h4v4h-4zM283.2 67h4v4h-4zM283.2 71h4v4h-4zM283.2 75h4v4h-4zM283.2 79h4v4h-4zM283.2 83h4v4h-4zM287.2 87h4v4h-4zM287.2 91h4v4h-4zM379.2 91h4v4h-4zM291.2 95h4v4h-4zM379.2 95h4v4h-4zM295.2 99h4v4h-4zM375.2 99h8v4h-8zM295.2 103h8v4h-8zM375.2 103h8v4h-8zM303.2 107h4v4h-4zM371.2 107h8v4h-8zM307.2 111h8v4h-8zM363.2 111h12v4h-12zM319.2 115h52v4h-52zM347.2 119h20v4h-20z"/>
<path fill="#050505" d="M351.2 23h12v4h-12zM335.2 27h16v4h-16zM359.2 27h12v4h-12zM311.2 31h8v4h-8zM367.2 31h8v4h-8zM371.2 35h4v4h-4zM299.2 39h4v4h-4zM375.2 39h4v4h-4zM295.2 43h4v4h-4zM375.2 43h4v4h-4zM379.2 47h4v4h-4zM379.2 51h4v4h-4zM379.2 55h4v4h-4zM287.2 59h4v4h-4zM379.2 59h4v4h-4zM379.2 75h4v4h-4zM379.2 79h4v4h-4zM287.2 83h4v4h-4zM379.2 83h4v4h-4zM379.2 87h4v4h-4zM291.2 91h4v4h-4zM375.2 91h4v4h-4zM375.2 95h4v4h-4zM371.2 99h4v4h-4zM367.2 103h8v4h-8zM307.2 107h4v4h-4zM363.2 107h8v4h-8zM315.2 111h8v4h-8zM339.2 111h24v4h-24z"/>
<path fill="#080808" d="M351.2 27h8v4h-8zM319.2 31h4v4h-4zM363.2 31h4v4h-4zM307.2 35h4v4h-4zM367.2 35h4v4h-4zM371.2 39h4v4h-4zM375.2 47h4v4h-4zM291.2 51h4v4h-4zM375.2 51h4v4h-4zM287.2 63h4v4h-4zM379.2 63h4v4h-4zM287.2 67h4v4h-4zM379.2 67h4v4h-4zM287.2 71h4v4h-4zM379.2 71h4v4h-4zM287.2 75h4v4h-4zM287.2 79h4v4h-4zM375.2 87h4v4h-4zM295.2 95h4v4h-4zM371.2 95h4v4h-4zM299.2 99h4v4h-4zM367.2 99h4v4h-4zM303.2 103h4v4h-4zM363.2 103h4v4h-4zM311.2 107h4v4h-4zM355.2 107h8v4h-8zM323.2 111h16v4h-16z"/>
<path fill="#0b0b0b" d="M323.2 31h40v4h-40zM311.2 35h4v4h-4zM363.2 35h4v4h-4zM303.2 39h4v4h-4zM367.2 39h4v4h-4zM299.2 43h4v4h-4zM371.2 43h4v4h-4zM295.2 47h4v4h-4zM291.2 55h4v4h-4zM375.2 55h4v4h-4zM375.2 79h4v4h-4zM375.2 83h4v4h-4zM291.2 87h4v4h-4zM371.2 91h4v4h-4zM359.2 103h4v4h-4zM347.2 107h8v4h-8z"/>
<path fill="#0d0d0d" d="M359.2 35h4v4h-4zM371.2 47h4v4h-4zM375.2 59h4v4h-4zM375.2 63h4v4h-4zM375.2 67h4v4h-4zM375.2 71h4v4h-4zM375.2 75h4v4h-4zM291.2 83h4v4h-4zM371.2 87h4v4h-4zM295.2 91h4v4h-4zM367.2 95h4v4h-4zM363.2 99h4v4h-4zM307.2 103h4v4h-4zM355.2 103h4v4h-4zM315.2 107h4v4h-4zM343.2 107h4v4h-4z"/>
<path fill="#101010" d="M315.2 35h4v4h-4zM355.2 35h4v4h-4zM363.2 39h4v4h-4zM367.2 43h4v4h-4zM295.2 51h4v4h-4zM371.2 51h4v4h-4zM291.2 59h4v4h-4zM371.2 83h4v4h-4zM367.2 91h4v4h-4zM303.2 99h4v4h-4zM319.2 107h4v4h-4zM339.2 107h4v4h-4z"/>
<path fill="#131313" d="M347.2 35h8v4h-8zM307.2 39h4v4h-4zM367.2 47h4v4h-4zM371.2 55h4v4h-4zM291.2 63h4v4h-4zM291.2 79h4v4h-4zM371.2 79h4v4h-4zM299.2 95h4v4h-4zM363.2 95h4v4h-4zM359.2 99h4v4h-4zM351.2 103h4v4h-4zM323.2 107h4v4h-4zM335.2 107h4v4h-4z"/>
<path fill="#151515" d="M319.2 35h4v4h-4zM343.2 35h4v4h-4zM359.2 39h4v4h-4zM303.2 43h4v4h-4zM363.2 43h4v4h-4zM299.2 47h4v4h-4zM371.2 59h4v4h-4zM291.2 67h4v4h-4zM291.2 75h4v4h-4zM371.2 75h4v4h-4zM367.2 87h4v4h-4zM311.2 103h4v4h-4zM327.2 107h8v4h-8z"/>
<path fill="#181818" d="M323.2 35h4v4h-4zM339.2 35h4v4h-4zM355.2 39h4v4h-4zM367.2 51h4v4h-4zM295.2 55h4v4h-4zM371.2 63h4v4h-4zM371.2 67h4v4h-4zM291.2 71h4v4h-4zM371.2 71h4v4h-4zM295.2 87h4v4h-4zM355.2 99h4v4h-4zM347.2 103h4v4h-4z"/>
<path fill="#1b1b1b" d="M327.2 35h12v4h-12zM311.2 39h4v4h-4zM363.2 91h4v4h-4zM359.2 95h4v4h-4z"/>
<path fill="#1e1e1e" d="M351.2 39h4v4h-4zM359.2 43h4v4h-4zM363.2 47h4v4h-4zM367.2 55h4v4h-4zM367.2 83h4v4h-4zM299.2 91h4v4h-4zM307.2 99h4v4h-4zM315.2 103h4v4h-4zM343.2 103h4v4h-4z"/>
<path fill="#202020" d="M307.2 43h4v4h-4zM299.2 51h4v4h-4zM295.2 59h4v4h-4zM295.2 83h4v4h-4zM303.2 95h4v4h-4zM351.2 99h4v4h-4z"/>
<path fill="#232323" d="M315.2 39h4v4h-4zM347.2 39h4v4h-4zM303.2 47h4v4h-4zM367.2 59h4v4h-4zM367.2 79h4v4h-4zM363.2 87h4v4h-4zM319.2 103h4v4h-4zM339.2 103h4v4h-4z"/>
<path fill="#262626" d="M355.2 43h4v4h-4zM363.2 51h4v4h-4zM367.2 75h4v4h-4zM295.2 79h4v4h-4zM355.2 95h4v4h-4zM335.2 103h4v4h-4z"/>
<path fill="#282828" d="M343.2 39h4v4h-4zM359.2 47h4v4h-4zM295.2 63h4v4h-4zM367.2 63h4v4h-4zM367.2 67h4v4h-4zM367.2 71h4v4h-4zM359.2 91h4v4h-4zM311.2 99h4v4h-4zM347.2 99h4v4h-4zM323.2 103h4v4h-4zM331.2 103h4v4h-4z"/>
<path fill="#2b2b2b" d="M319.2 39h4v4h-4zM339.2 39h4v4h-4zM295.2 67h4v4h-4zM295.2 75h4v4h-4zM299.2 87h4v4h-4zM327.2 103h4v4h-4z"/>
<path fill="#2e2e2e" d="M311.2 43h4v4h-4zM351.2 43h4v4h-4zM299.2 55h4v4h-4zM363.2 55h4v4h-4zM295.2 71h4v4h-4zM363.2 83h4v4h-4zM307.2 95h4v4h-4z"/>
<path fill="#303030" d="M323.2 39h4v4h-4zM335.2 39h4v4h-4zM303.2 91h4v4h-4z"/>
<path fill="#333333" d="M327.2 39h8v4h-8zM351.2 95h4v4h-4zM315.2 99h4v4h-4zM343.2 99h4v4h-4z"/>
<path fill="#363636" d="M347.2 43h4v4h-4zM307.2 47h4v4h-4zM355.2 47h4v4h-4zM303.2 51h4v4h-4zM359.2 51h4v4h-4zM299.2 83h4v4h-4zM359.2 87h4v4h-4z"/>
<path fill="#383838" d="M299.2 59h4v4h-4zM363.2 59h4v4h-4zM363.2 79h4v4h-4zM355.2 91h4v4h-4z"/>
<path fill="#3b3b3b" d="M315.2 43h4v4h-4zM339.2 99h4v4h-4z"/>
<path fill="#3e3e3e" d="M343.2 43h4v4h-4zM363.2 63h4v4h-4zM363.2 75h4v4h-4zM311.2 95h4v4h-4zM319.2 99h4v4h-4z"/>
<path fill="#404040" d="M299.2 63h4v4h-4zM363.2 67h4v4h-4zM363.2 71h4v4h-4zM299.2 79h4v4h-4zM303.2 87h4v4h-4zM347.2 95h4v4h-4zM335.2 99h4v4h-4z"/>
<path fill="#434343" d="M351.2 47h4v4h-4zM359.2 55h4v4h-4zM359.2 83h4v4h-4zM307.2 91h4v4h-4zM323.2 99h4v4h-4zM331.2 99h4v4h-4z"/>
<path fill="#464646" d="M319.2 43h4v4h-4zM339.2 43h4v4h-4zM311.2 47h4v4h-4zM303.2 55h4v4h-4zM299.2 67h4v4h-4zM299.2 75h4v4h-4zM327.2 99h4v4h-4z"/>
<path fill="#484848" d="M355.2 51h4v4h-4zM299.2 71h4v4h-4zM351.2 91h4v4h-4z"/>
<path fill="#4b4b4b" d="M323.2 43h4v4h-4zM335.2 43h4v4h-4zM307.2 51h4v4h-4zM355.2 87h4v4h-4zM343.2 95h4v4h-4z"/>
<path fill="#4e4e4e" d="M331.2 43h4v4h-4zM347.2 47h4v4h-4zM303.2 83h4v4h-4zM315.2 95h4v4h-4z"/>
<path fill="#515151" d="M327.2 43h4v4h-4zM359.2 59h4v4h-4zM359.2 79h4v4h-4z"/>
<path fill="#535353" d="M303.2 59h4v4h-4z"/>
<path fill="#565656" d="M315.2 47h4v4h-4zM311.2 91h4v4h-4zM339.2 95h4v4h-4z"/>
<path fill="#595959" d="M343.2 47h4v4h-4zM351.2 51h4v4h-4zM355.2 55h4v4h-4zM359.2 63h4v4h-4zM359.2 75h4v4h-4zM307.2 87h4v4h-4zM347.2 91h4v4h-4zM319.2 95h4v4h-4z"/>
<path fill="#5b5b5b" d="M303.2 79h4v4h-4zM355.2 83h4v4h-4z"/>
<path fill="#5e5e5e" d="M307.2 55h4v4h-4zM303.2 63h4v4h-4zM359.2 67h4v4h-4zM359.2 71h4v4h-4zM351.2 87h4v4h-4zM335.2 95h4v4h-4z"/>
<path fill="#616161" d="M311.2 51h4v4h-4zM323.2 95h4v4h-4zM331.2 95h4v4h-4z"/>
<path fill="#636363" d="M319.2 47h4v4h-4zM339.2 47h4v4h-4zM303.2 75h4v4h-4zM327.2 95h4v4h-4z"/>
<path fill="#666666" d="M347.2 51h4v4h-4zM303.2 67h4v4h-4zM343.2 91h4v4h-4z"/>
<path fill="#696969" d="M335.2 47h4v4h-4zM355.2 59h4v4h-4zM303.2 71h4v4h-4zM315.2 91h4v4h-4z"/>
<path fill="#6b6b6b" d="M323.2 47h4v4h-4zM355.2 79h4v4h-4zM307.2 83h4v4h-4z"/>
<path fill="#6e6e6e" d="M331.2 47h4v4h-4zM351.2 55h4v4h-4zM311.2 87h4v4h-4zM347.2 87h4v4h-4z"/>
<path fill="#717171" d="M327.2 47h4v4h-4zM307.2 59h4v4h-4zM351.2 83h4v4h-4zM339.2 91h4v4h-4z"/>
<path fill="#737373" d="M315.2 51h4v4h-4zM343.2 51h4v4h-4zM355.2 63h4v4h-4zM355.2 75h4v4h-4z"/>
<path fill="#767676" d="M319.2 91h4v4h-4z"/>
<path fill="#797979" d="M311.2 55h4v4h-4zM355.2 67h4v4h-4zM355.2 71h4v4h-4zM307.2 79h4v4h-4z"/>
<path fill="#7b7b7b" d="M335.2 91h4v4h-4z"/>
<path fill="#7e7e7e" d="M347.2 55h4v4h-4zM351.2 59h4v4h-4zM307.2 63h4v4h-4zM343.2 87h4v4h-4z"/>
<path fill="#818181" d="M339.2 51h4v4h-4zM351.2 79h4v4h-4zM323.2 91h4v4h-4z"/>
<path fill="#848484" d="M319.2 51h4v4h-4zM307.2 75h4v4h-4zM347.2 83h4v4h-4zM327.2 91h8v4h-8z"/>
<path fill="#868686" d="M307.2 67h4v4h-4zM311.2 83h4v4h-4zM315.2 87h4v4h-4z"/>
<path fill="#898989" d="M335.2 51h4v4h-4zM307.2 71h4v4h-4z"/>
<path fill="#8c8c8c" d="M351.2 63h4v4h-4z"/>
<path fill="#8e8e8e" d="M323.2 51h4v4h-4zM343.2 55h4v4h-4zM311.2 59h4v4h-4zM351.2 75h4v4h-4zM339.2 87h4v4h-4z"/>
<path fill="#919191" d="M331.2 51h4v4h-4zM315.2 55h4v4h-4z"/>
<path fill="#949494" d="M327.2 51h4v4h-4zM347.2 59h4v4h-4zM351.2 67h4v4h-4zM351.2 71h4v4h-4z"/>
<path fill="#969696" d="M347.2 79h4v4h-4zM319.2 87h4v4h-4z"/>
<path fill="#999999" d="M311.2 79h4v4h-4zM343.2 83h4v4h-4z"/>
<path fill="#9c9c9c" d="M339.2 55h4v4h-4zM335.2 87h4v4h-4z"/>
<path fill="#a1a1a1" d="M311.2 63h4v4h-4zM347.2 63h4v4h-4zM315.2 83h4v4h-4z"/>
<path fill="#a4a4a4" d="M319.2 55h4v4h-4zM347.2 75h4v4h-4zM323.2 87h4v4h-4z"/>
<path fill="#a6a6a6" d="M343.2 59h4v4h-4zM331.2 87h4v4h-4z"/>
<path fill="#a9a9a9" d="M347.2 67h4v4h-4zM311.2 75h4v4h-4zM327.2 87h4v4h-4z"/>
<path fill="#acacac" d="M335.2 55h4v4h-4zM315.2 59h4v4h-4zM311.2 67h4v4h-4zM347.2 71h4v4h-4zM339.2 83h4v4h-4z"/>
<path fill="#aeaeae" d="M311.2 71h4v4h-4zM343.2 79h4v4h-4z"/>
<path fill="#b1b1b1" d="M323.2 55h4v4h-4z"/>
<path fill="#b4b4b4" d="M331.2 55h4v4h-4z"/>
<path fill="#b7b7b7" d="M327.2 55h4v4h-4zM343.2 63h4v4h-4z"/>
<path fill="#b9b9b9" d="M339.2 59h4v4h-4zM315.2 79h4v4h-4zM319.2 83h4v4h-4z"/>
<path fill="#bcbcbc" d="M343.2 75h4v4h-4zM335.2 83h4v4h-4z"/>
<path fill="#c1c1c1" d="M315.2 63h4v4h-4z"/>
<path fill="#c4c4c4" d="M319.2 59h4v4h-4zM343.2 67h4v4h-4zM343.2 71h4v4h-4zM339.2 79h4v4h-4z"/>
<path fill="#c9c9c9" d="M323.2 83h4v4h-4zM331.2 83h4v4h-4z"/>
<path fill="#cccccc" d="M335.2 59h4v4h-4zM315.2 75h4v4h-4z"/>
<path fill="#cfcfcf" d="M339.2 63h4v4h-4zM327.2 83h4v4h-4z"/>
<path fill="#d1d1d1" d="M315.2 67h4v4h-4z"/>
<path fill="#d4d4d4" d="M315.2 71h4v4h-4z"/>
<path fill="#d7d7d7" d="M323.2 59h4v4h-4zM339.2 75h4v4h-4zM319.2 79h4v4h-4z"/>
<path fill="#d9d9d9" d="M331.2 59h4v4h-4zM335.2 79h4v4h-4z"/>
<path fill="#dcdcdc" d="M327.2 59h4v4h-4zM339.2 67h4v4h-4z"/>
<path fill="#e1e1e1" d="M319.2 63h4v4h-4zM339.2 71h4v4h-4z"/>
<path fill="#e7e7e7" d="M335.2 63h4v4h-4z"/>
<path fill="#eaeaea" d="M323.2 79h4v4h-4zM331.2 79h4v4h-4z"/>
<path fill="#ececec" d="M319.2 75h4v4h-4z"/>
<path fill="#f2f2f2" d="M319.2 67h4v4h-4zM335.2 75h4v4h-4zM327.2 79h4v4h-4z"/>
<path fill="#f4f4f4" d="M323.2 63h4v4h-4z"/>
<path fill="#f7f7f7" d="M331.2 63h4v4h-4zM335.2 67h4v4h-4zM319.2 71h4v4h-4z"/>
<path fill="#fafafa" d="M335.2 71h4v4h-4z"/>
<path fill="#fcfcfc" d="M327.2 63h4v4h-4z"/>
<path fill="#ffffff" d="M323.2 67h12v4h-12zM323.2 71h12v4h-12zM323.2 75h12v4h-12z"/>
</g></g>
<line x1="287.2" y1="72.45" x2="370.5" y2="72.45" stroke="#9ba0ae" stroke-width="1" stroke-dasharray="3.2 3.4"/>
<line x1="328.45" y1="31" x2="328.45" y2="114" stroke="#9ba0ae" stroke-width="1" stroke-dasharray="3.2 3.4" stroke-dashoffset="-0.3"/>
<text x="418.05" y="28.6" text-anchor="middle" font-size="13.5">Inverse</text>
<clipPath id="cpb1"><rect x="376.4" y="31" width="83.3" height="83"/></clipPath>
<g clip-path="url(#cpb1)"><g filter="url(#hot)">
<rect x="364.4" y="19" width="108" height="108" fill="#000"/>
<path fill="#000000" d="M364.4 19h108v4h-108zM364.4 23h108v4h-108zM364.4 27h108v4h-108zM364.4 31h108v4h-108zM364.4 35h108v4h-108zM364.4 39h108v4h-108zM364.4 43h56v4h-56zM428.4 43h44v4h-44zM364.4 47h44v4h-44zM440.4 47h32v4h-32zM364.4 51h36v4h-36zM452.4 51h20v4h-20zM364.4 55h32v4h-32zM456.4 55h16v4h-16zM364.4 59h28v4h-28zM460.4 59h12v4h-12zM364.4 63h24v4h-24zM460.4 63h12v4h-12zM364.4 67h20v4h-20zM464.4 67h8v4h-8zM364.4 71h20v4h-20zM464.4 71h8v4h-8zM364.4 75h20v4h-20zM464.4 75h8v4h-8zM364.4 79h16v4h-16zM464.4 79h8v4h-8zM364.4 83h16v4h-16zM464.4 83h8v4h-8zM364.4 87h16v4h-16zM464.4 87h8v4h-8zM364.4 91h16v4h-16zM460.4 91h12v4h-12zM364.4 95h16v4h-16zM460.4 95h12v4h-12zM364.4 99h20v4h-20zM460.4 99h12v4h-12zM364.4 103h20v4h-20zM456.4 103h16v4h-16zM364.4 107h20v4h-20zM452.4 107h20v4h-20zM364.4 111h24v4h-24zM444.4 111h28v4h-28zM364.4 115h108v4h-108zM364.4 119h108v4h-108zM364.4 123h108v4h-108z"/>
<path fill="#030303" d="M420.4 43h8v4h-8zM408.4 47h4v4h-4zM436.4 47h4v4h-4zM400.4 51h4v4h-4zM448.4 51h4v4h-4zM396.4 55h4v4h-4zM392.4 59h4v4h-4zM456.4 59h4v4h-4zM388.4 63h4v4h-4zM384.4 67h4v4h-4zM460.4 67h4v4h-4zM460.4 71h4v4h-4zM460.4 75h4v4h-4zM380.4 79h4v4h-4zM460.4 79h4v4h-4zM380.4 83h4v4h-4zM460.4 83h4v4h-4zM380.4 87h4v4h-4zM460.4 87h4v4h-4zM380.4 91h4v4h-4zM380.4 95h4v4h-4zM456.4 99h4v4h-4zM384.4 107h4v4h-4zM388.4 111h56v4h-56z"/>
<path fill="#050505" d="M432.4 47h4v4h-4zM404.4 51h4v4h-4zM444.4 51h4v4h-4zM452.4 55h4v4h-4zM384.4 71h4v4h-4zM384.4 103h4v4h-4zM448.4 107h4v4h-4z"/>
<path fill="#080808" d="M412.4 47h4v4h-4zM428.4 47h4v4h-4zM440.4 51h4v4h-4zM400.4 55h4v4h-4zM396.4 59h4v4h-4zM456.4 63h4v4h-4zM456.4 95h4v4h-4zM384.4 99h4v4h-4zM452.4 103h4v4h-4zM388.4 107h4v4h-4z"/>
<path fill="#0b0b0b" d="M392.4 63h4v4h-4zM388.4 67h4v4h-4zM384.4 91h4v4h-4zM384.4 95h4v4h-4zM444.4 107h4v4h-4z"/>
<path fill="#0d0d0d" d="M424.4 47h4v4h-4zM436.4 51h4v4h-4zM448.4 55h4v4h-4zM456.4 67h4v4h-4zM456.4 71h4v4h-4zM384.4 75h4v4h-4zM384.4 87h4v4h-4zM456.4 91h4v4h-4zM440.4 107h4v4h-4z"/>
<path fill="#101010" d="M416.4 47h8v4h-8zM408.4 51h4v4h-4zM456.4 75h4v4h-4zM384.4 79h4v4h-4zM456.4 79h4v4h-4zM384.4 83h4v4h-4zM456.4 83h4v4h-4zM456.4 87h4v4h-4zM392.4 107h4v4h-4zM428.4 107h12v4h-12z"/>
<path fill="#131313" d="M452.4 59h4v4h-4zM396.4 107h32v4h-32z"/>
<path fill="#151515" d="M404.4 55h4v4h-4zM452.4 99h4v4h-4zM388.4 103h4v4h-4z"/>
<path fill="#181818" d="M432.4 51h4v4h-4zM444.4 55h4v4h-4zM400.4 59h4v4h-4zM448.4 103h4v4h-4z"/>
<path fill="#1b1b1b" d="M388.4 71h4v4h-4z"/>
<path fill="#1e1e1e" d="M396.4 63h4v4h-4zM388.4 99h4v4h-4z"/>
<path fill="#202020" d="M392.4 67h4v4h-4zM388.4 95h4v4h-4z"/>
<path fill="#232323" d="M412.4 51h4v4h-4zM428.4 51h4v4h-4zM440.4 55h4v4h-4zM452.4 63h4v4h-4zM452.4 95h4v4h-4z"/>
<path fill="#262626" d="M388.4 91h4v4h-4zM392.4 103h4v4h-4zM444.4 103h4v4h-4z"/>
<path fill="#282828" d="M448.4 59h4v4h-4zM388.4 87h4v4h-4zM440.4 103h4v4h-4z"/>
<path fill="#2b2b2b" d="M424.4 51h4v4h-4zM408.4 55h4v4h-4zM452.4 67h4v4h-4zM388.4 75h4v4h-4zM388.4 83h4v4h-4zM452.4 91h4v4h-4zM448.4 99h4v4h-4zM396.4 103h8v4h-8zM436.4 103h4v4h-4z"/>
<path fill="#2e2e2e" d="M436.4 55h4v4h-4zM452.4 71h4v4h-4zM388.4 79h4v4h-4zM452.4 87h4v4h-4zM404.4 103h8v4h-8zM428.4 103h8v4h-8z"/>
<path fill="#303030" d="M416.4 51h4v4h-4zM452.4 75h4v4h-4zM452.4 79h4v4h-4zM452.4 83h4v4h-4zM392.4 99h4v4h-4zM412.4 103h16v4h-16z"/>
<path fill="#333333" d="M420.4 51h4v4h-4zM404.4 59h4v4h-4zM392.4 95h4v4h-4z"/>
<path fill="#363636" d="M444.4 59h4v4h-4zM400.4 63h4v4h-4zM392.4 71h4v4h-4zM448.4 95h4v4h-4zM396.4 99h4v4h-4zM444.4 99h4v4h-4z"/>
<path fill="#383838" d="M448.4 63h4v4h-4zM396.4 67h4v4h-4zM392.4 91h4v4h-4zM400.4 99h4v4h-4z"/>
<path fill="#3b3b3b" d="M432.4 55h4v4h-4zM392.4 87h4v4h-4zM448.4 91h4v4h-4zM396.4 95h4v4h-4zM404.4 99h4v4h-4zM440.4 99h4v4h-4z"/>
<path fill="#3e3e3e" d="M412.4 55h4v4h-4zM392.4 75h4v4h-4zM392.4 83h4v4h-4zM444.4 95h4v4h-4zM408.4 99h4v4h-4zM436.4 99h4v4h-4z"/>
<path fill="#404040" d="M440.4 59h4v4h-4zM448.4 67h4v4h-4zM392.4 79h4v4h-4zM448.4 87h4v4h-4zM396.4 91h4v4h-4zM400.4 95h4v4h-4zM412.4 99h4v4h-4zM432.4 99h4v4h-4z"/>
<path fill="#434343" d="M428.4 55h4v4h-4zM448.4 71h4v4h-4zM448.4 83h4v4h-4zM396.4 87h4v4h-4zM444.4 91h4v4h-4zM404.4 95h4v4h-4zM440.4 95h4v4h-4zM416.4 99h16v4h-16z"/>
<path fill="#464646" d="M408.4 59h4v4h-4zM444.4 63h4v4h-4zM396.4 71h4v4h-4zM448.4 75h4v4h-4zM448.4 79h4v4h-4zM400.4 91h4v4h-4zM436.4 95h4v4h-4z"/>
<path fill="#484848" d="M416.4 55h12v4h-12zM436.4 59h4v4h-4zM404.4 63h4v4h-4zM400.4 67h4v4h-4zM396.4 83h4v4h-4zM444.4 87h4v4h-4zM408.4 95h4v4h-4z"/>
<path fill="#4b4b4b" d="M444.4 67h4v4h-4zM396.4 75h4v4h-4zM396.4 79h4v4h-4zM400.4 87h4v4h-4zM404.4 91h4v4h-4zM440.4 91h4v4h-4zM412.4 95h4v4h-4zM432.4 95h4v4h-4z"/>
<path fill="#4e4e4e" d="M440.4 63h4v4h-4zM444.4 83h4v4h-4zM416.4 95h4v4h-4zM428.4 95h4v4h-4z"/>
<path fill="#515151" d="M412.4 59h4v4h-4zM432.4 59h4v4h-4zM400.4 71h4v4h-4zM444.4 71h4v4h-4zM444.4 75h4v4h-4zM444.4 79h4v4h-4zM400.4 83h4v4h-4zM440.4 87h4v4h-4zM408.4 91h4v4h-4zM436.4 91h4v4h-4zM420.4 95h8v4h-8z"/>
<path fill="#535353" d="M428.4 59h4v4h-4zM400.4 75h4v4h-4zM400.4 79h4v4h-4zM404.4 87h4v4h-4z"/>
<path fill="#565656" d="M416.4 59h4v4h-4zM408.4 63h4v4h-4zM436.4 63h4v4h-4zM404.4 67h4v4h-4zM440.4 67h4v4h-4zM440.4 83h4v4h-4zM412.4 91h4v4h-4zM432.4 91h4v4h-4z"/>
<path fill="#595959" d="M420.4 59h8v4h-8zM404.4 83h4v4h-4zM436.4 87h4v4h-4zM416.4 91h4v4h-4zM428.4 91h4v4h-4z"/>
<path fill="#5b5b5b" d="M432.4 63h4v4h-4zM404.4 71h4v4h-4zM440.4 71h4v4h-4zM440.4 75h4v4h-4zM440.4 79h4v4h-4zM408.4 87h4v4h-4zM420.4 91h8v4h-8z"/>
<path fill="#5e5e5e" d="M412.4 63h4v4h-4zM436.4 67h4v4h-4zM404.4 75h4v4h-4zM404.4 79h4v4h-4zM432.4 87h4v4h-4z"/>
<path fill="#616161" d="M428.4 63h4v4h-4zM408.4 67h4v4h-4zM408.4 83h4v4h-4zM436.4 83h4v4h-4zM412.4 87h4v4h-4z"/>
<path fill="#636363" d="M416.4 63h12v4h-12zM436.4 71h4v4h-4zM436.4 79h4v4h-4zM428.4 87h4v4h-4z"/>
<path fill="#666666" d="M412.4 67h4v4h-4zM432.4 67h4v4h-4zM408.4 71h4v4h-4zM436.4 75h4v4h-4zM408.4 79h4v4h-4zM416.4 87h4v4h-4zM424.4 87h4v4h-4z"/>
<path fill="#696969" d="M408.4 75h4v4h-4zM412.4 83h4v4h-4zM432.4 83h4v4h-4zM420.4 87h4v4h-4z"/>
<path fill="#6b6b6b" d="M416.4 67h4v4h-4zM428.4 67h4v4h-4zM432.4 71h4v4h-4z"/>
<path fill="#6e6e6e" d="M420.4 67h8v4h-8zM412.4 71h4v4h-4zM432.4 75h4v4h-4zM412.4 79h4v4h-4zM432.4 79h4v4h-4zM416.4 83h4v4h-4zM428.4 83h4v4h-4z"/>
<path fill="#717171" d="M412.4 75h4v4h-4zM420.4 83h8v4h-8z"/>
<path fill="#737373" d="M416.4 71h4v4h-4zM428.4 71h4v4h-4zM428.4 79h4v4h-4z"/>
<path fill="#767676" d="M420.4 71h8v4h-8zM416.4 75h4v4h-4zM428.4 75h4v4h-4zM416.4 79h4v4h-4z"/>
<path fill="#797979" d="M420.4 75h8v4h-8zM420.4 79h8v4h-8z"/>
</g></g>
<line x1="376.4" y1="72.45" x2="459.7" y2="72.45" stroke="#9ba0ae" stroke-width="1" stroke-dasharray="3.2 3.4"/>
<line x1="417.65" y1="31" x2="417.65" y2="114" stroke="#9ba0ae" stroke-width="1" stroke-dasharray="3.2 3.4" stroke-dashoffset="-0.3"/>
<rect x="276.9" y="31" width="6.7" height="83" fill="url(#cbar)"/>
<line x1="287.2" y1="118.2" x2="309.8" y2="118.2" stroke="#000" stroke-width="1.3"/>
<text x="289.2" y="130.6" text-anchor="start" font-size="13.5">15&#176;</text>
<text x="591.8" y="15" text-anchor="middle" font-size="18.1">SOM</text>
<text x="546.65" y="28.6" text-anchor="middle" font-size="13.5">Classical</text>
<clipPath id="cpc0"><rect x="505" y="31" width="83.3" height="83"/></clipPath>
<g clip-path="url(#cpc0)"><g filter="url(#hot)">
<rect x="493" y="19" width="108" height="108" fill="#000"/>
<path fill="#000000" d="M493 19h108v4h-108zM493 23h108v4h-108zM493 27h108v4h-108zM493 31h44v4h-44zM557 31h44v4h-44zM493 35h32v4h-32zM569 35h32v4h-32zM493 39h20v4h-20zM577 39h24v4h-24zM493 43h16v4h-16zM581 43h20v4h-20zM493 47h16v4h-16zM585 47h16v4h-16zM493 51h16v4h-16zM585 51h16v4h-16zM493 55h12v4h-12zM585 55h16v4h-16zM493 59h12v4h-12zM589 59h12v4h-12zM493 63h12v4h-12zM589 63h12v4h-12zM493 67h12v4h-12zM589 67h12v4h-12zM493 71h12v4h-12zM589 71h12v4h-12zM493 75h12v4h-12zM589 75h12v4h-12zM493 79h12v4h-12zM589 79h12v4h-12zM493 83h12v4h-12zM589 83h12v4h-12zM493 87h12v4h-12zM585 87h16v4h-16zM493 91h16v4h-16zM585 91h16v4h-16zM493 95h16v4h-16zM585 95h16v4h-16zM493 99h20v4h-20zM581 99h20v4h-20zM493 103h24v4h-24zM577 103h24v4h-24zM493 107h36v4h-36zM565 107h36v4h-36zM493 111h108v4h-108zM493 115h108v4h-108zM493 119h108v4h-108zM493 123h108v4h-108z"/>
<path fill="#030303" d="M537 31h20v4h-20zM525 35h16v4h-16zM553 35h16v4h-16zM513 39h8v4h-8zM573 39h4v4h-4zM509 43h4v4h-4zM509 47h4v4h-4zM581 47h4v4h-4zM581 51h4v4h-4zM505 55h4v4h-4zM505 59h4v4h-4zM585 59h4v4h-4zM505 63h4v4h-4zM585 63h4v4h-4zM505 67h4v4h-4zM585 67h4v4h-4zM505 71h4v4h-4zM585 71h4v4h-4zM505 75h4v4h-4zM585 75h4v4h-4zM505 79h4v4h-4zM585 79h4v4h-4zM505 83h4v4h-4zM585 83h4v4h-4zM505 87h4v4h-4zM581 91h4v4h-4zM509 95h4v4h-4zM581 95h4v4h-4zM513 99h4v4h-4zM577 99h4v4h-4zM517 103h8v4h-8zM569 103h8v4h-8zM529 107h36v4h-36z"/>
<path fill="#050505" d="M541 35h12v4h-12zM521 39h4v4h-4zM569 39h4v4h-4zM513 43h4v4h-4zM577 43h4v4h-4zM509 51h4v4h-4zM581 55h4v4h-4zM581 59h4v4h-4zM581 63h4v4h-4zM581 79h4v4h-4zM581 83h4v4h-4zM509 87h4v4h-4zM581 87h4v4h-4zM509 91h4v4h-4zM525 103h8v4h-8zM561 103h8v4h-8z"/>
<path fill="#080808" d="M525 39h4v4h-4zM565 39h4v4h-4zM577 47h4v4h-4zM509 55h4v4h-4zM509 59h4v4h-4zM509 63h4v4h-4zM581 67h4v4h-4zM581 71h4v4h-4zM581 75h4v4h-4zM509 79h4v4h-4zM509 83h4v4h-4zM577 95h4v4h-4zM517 99h4v4h-4zM573 99h4v4h-4zM533 103h28v4h-28z"/>
<path fill="#0b0b0b" d="M529 39h8v4h-8zM557 39h8v4h-8zM573 43h4v4h-4zM509 67h4v4h-4zM509 71h4v4h-4zM509 75h4v4h-4zM513 95h4v4h-4z"/>
<path fill="#0d0d0d" d="M537 39h20v4h-20zM517 43h4v4h-4zM513 47h4v4h-4zM577 51h4v4h-4zM577 91h4v4h-4zM521 99h4v4h-4zM569 99h4v4h-4z"/>
<path fill="#101010" d="M577 87h4v4h-4zM513 91h4v4h-4zM565 99h4v4h-4z"/>
<path fill="#131313" d="M569 43h4v4h-4zM513 51h4v4h-4zM577 55h4v4h-4zM577 83h4v4h-4zM573 95h4v4h-4zM525 99h4v4h-4z"/>
<path fill="#151515" d="M521 43h4v4h-4zM577 59h4v4h-4zM577 63h4v4h-4zM577 75h4v4h-4zM577 79h4v4h-4zM513 87h4v4h-4zM517 95h4v4h-4zM529 99h4v4h-4zM561 99h4v4h-4z"/>
<path fill="#181818" d="M573 47h4v4h-4zM513 55h4v4h-4zM577 67h4v4h-4zM577 71h4v4h-4zM513 83h4v4h-4zM533 99h4v4h-4zM557 99h4v4h-4z"/>
<path fill="#1b1b1b" d="M525 43h4v4h-4zM565 43h4v4h-4zM517 47h4v4h-4zM513 59h4v4h-4zM513 63h4v4h-4zM513 79h4v4h-4zM537 99h4v4h-4zM549 99h8v4h-8z"/>
<path fill="#1e1e1e" d="M513 67h4v4h-4zM513 71h4v4h-4zM513 75h4v4h-4zM573 91h4v4h-4zM541 99h8v4h-8z"/>
<path fill="#202020" d="M529 43h4v4h-4zM561 43h4v4h-4zM569 95h4v4h-4z"/>
<path fill="#232323" d="M557 43h4v4h-4zM573 51h4v4h-4zM517 91h4v4h-4zM521 95h4v4h-4z"/>
<path fill="#262626" d="M533 43h4v4h-4z"/>
<path fill="#282828" d="M537 43h4v4h-4zM549 43h8v4h-8zM569 47h4v4h-4zM517 51h4v4h-4zM573 87h4v4h-4z"/>
<path fill="#2b2b2b" d="M541 43h8v4h-8zM573 55h4v4h-4zM565 95h4v4h-4z"/>
<path fill="#2e2e2e" d="M521 47h4v4h-4zM573 83h4v4h-4zM525 95h4v4h-4z"/>
<path fill="#303030" d="M573 59h4v4h-4zM517 87h4v4h-4z"/>
<path fill="#333333" d="M517 55h4v4h-4zM573 63h4v4h-4zM573 79h4v4h-4zM561 95h4v4h-4z"/>
<path fill="#363636" d="M573 67h4v4h-4zM573 71h4v4h-4zM573 75h4v4h-4zM569 91h4v4h-4zM529 95h4v4h-4z"/>
<path fill="#383838" d="M565 47h4v4h-4zM517 59h4v4h-4zM517 83h4v4h-4z"/>
<path fill="#3b3b3b" d="M525 47h4v4h-4zM517 79h4v4h-4zM521 91h4v4h-4zM533 95h4v4h-4zM557 95h4v4h-4z"/>
<path fill="#3e3e3e" d="M569 51h4v4h-4zM517 63h4v4h-4z"/>
<path fill="#404040" d="M517 67h4v4h-4zM517 71h4v4h-4zM517 75h4v4h-4zM537 95h4v4h-4zM553 95h4v4h-4z"/>
<path fill="#434343" d="M561 47h4v4h-4zM521 51h4v4h-4zM541 95h12v4h-12z"/>
<path fill="#464646" d="M529 47h4v4h-4zM569 87h4v4h-4z"/>
<path fill="#484848" d="M565 91h4v4h-4z"/>
<path fill="#4b4b4b" d="M557 47h4v4h-4zM569 55h4v4h-4z"/>
<path fill="#4e4e4e" d="M533 47h4v4h-4zM521 87h4v4h-4zM525 91h4v4h-4z"/>
<path fill="#515151" d="M553 47h4v4h-4z"/>
<path fill="#535353" d="M537 47h4v4h-4zM565 51h4v4h-4zM521 55h4v4h-4zM569 83h4v4h-4z"/>
<path fill="#565656" d="M541 47h12v4h-12zM569 59h4v4h-4z"/>
<path fill="#595959" d="M525 51h4v4h-4zM569 79h4v4h-4zM561 91h4v4h-4z"/>
<path fill="#5b5b5b" d="M569 63h4v4h-4zM521 83h4v4h-4zM529 91h4v4h-4z"/>
<path fill="#5e5e5e" d="M521 59h4v4h-4zM569 67h4v4h-4zM569 75h4v4h-4z"/>
<path fill="#616161" d="M569 71h4v4h-4z"/>
<path fill="#636363" d="M521 79h4v4h-4zM565 87h4v4h-4zM557 91h4v4h-4z"/>
<path fill="#666666" d="M561 51h4v4h-4zM521 63h4v4h-4zM533 91h4v4h-4z"/>
<path fill="#696969" d="M529 51h4v4h-4zM565 55h4v4h-4zM521 67h4v4h-4zM521 75h4v4h-4zM525 87h4v4h-4z"/>
<path fill="#6b6b6b" d="M521 71h4v4h-4zM553 91h4v4h-4z"/>
<path fill="#6e6e6e" d="M537 91h4v4h-4z"/>
<path fill="#717171" d="M525 55h4v4h-4zM549 91h4v4h-4z"/>
<path fill="#737373" d="M557 51h4v4h-4zM565 83h4v4h-4zM541 91h8v4h-8z"/>
<path fill="#767676" d="M533 51h4v4h-4z"/>
<path fill="#797979" d="M565 59h4v4h-4zM561 87h4v4h-4z"/>
<path fill="#7b7b7b" d="M525 83h4v4h-4zM529 87h4v4h-4z"/>
<path fill="#7e7e7e" d="M537 51h4v4h-4zM553 51h4v4h-4zM565 79h4v4h-4z"/>
<path fill="#818181" d="M561 55h4v4h-4zM525 59h4v4h-4zM565 63h4v4h-4z"/>
<path fill="#848484" d="M549 51h4v4h-4z"/>
<path fill="#868686" d="M541 51h8v4h-8zM529 55h4v4h-4zM565 67h4v4h-4zM565 75h4v4h-4zM525 79h4v4h-4z"/>
<path fill="#898989" d="M565 71h4v4h-4zM557 87h4v4h-4z"/>
<path fill="#8c8c8c" d="M525 63h4v4h-4zM533 87h4v4h-4z"/>
<path fill="#8e8e8e" d="M525 75h4v4h-4zM561 83h4v4h-4z"/>
<path fill="#919191" d="M525 67h4v4h-4zM525 71h4v4h-4z"/>
<path fill="#949494" d="M557 55h4v4h-4zM561 59h4v4h-4zM529 83h4v4h-4zM553 87h4v4h-4z"/>
<path fill="#969696" d="M537 87h4v4h-4z"/>
<path fill="#999999" d="M533 55h4v4h-4z"/>
<path fill="#9c9c9c" d="M529 59h4v4h-4zM549 87h4v4h-4z"/>
<path fill="#9e9e9e" d="M561 79h4v4h-4zM541 87h4v4h-4z"/>
<path fill="#a1a1a1" d="M553 55h4v4h-4zM545 87h4v4h-4z"/>
<path fill="#a4a4a4" d="M561 63h4v4h-4zM529 79h4v4h-4zM557 83h4v4h-4z"/>
<path fill="#a6a6a6" d="M537 55h4v4h-4z"/>
<path fill="#a9a9a9" d="M529 63h4v4h-4zM561 75h4v4h-4zM533 83h4v4h-4z"/>
<path fill="#acacac" d="M549 55h4v4h-4zM557 59h4v4h-4zM561 67h4v4h-4z"/>
<path fill="#aeaeae" d="M541 55h4v4h-4zM561 71h4v4h-4z"/>
<path fill="#b1b1b1" d="M545 55h4v4h-4zM533 59h4v4h-4zM529 75h4v4h-4z"/>
<path fill="#b4b4b4" d="M529 67h4v4h-4zM553 83h4v4h-4z"/>
<path fill="#b7b7b7" d="M529 71h4v4h-4z"/>
<path fill="#b9b9b9" d="M557 79h4v4h-4zM537 83h4v4h-4z"/>
<path fill="#bfbfbf" d="M553 59h4v4h-4zM557 63h4v4h-4zM533 79h4v4h-4z"/>
<path fill="#c1c1c1" d="M549 83h4v4h-4z"/>
<path fill="#c4c4c4" d="M537 59h4v4h-4zM541 83h4v4h-4z"/>
<path fill="#c7c7c7" d="M533 63h4v4h-4zM557 75h4v4h-4zM545 83h4v4h-4z"/>
<path fill="#c9c9c9" d="M557 67h4v4h-4z"/>
<path fill="#cccccc" d="M549 59h4v4h-4z"/>
<path fill="#cfcfcf" d="M541 59h4v4h-4zM557 71h4v4h-4zM533 75h4v4h-4zM553 79h4v4h-4z"/>
<path fill="#d1d1d1" d="M533 67h4v4h-4z"/>
<path fill="#d4d4d4" d="M545 59h4v4h-4zM533 71h4v4h-4zM537 79h4v4h-4z"/>
<path fill="#d7d7d7" d="M553 63h4v4h-4z"/>
<path fill="#dcdcdc" d="M537 63h4v4h-4z"/>
<path fill="#dfdfdf" d="M549 79h4v4h-4z"/>
<path fill="#e1e1e1" d="M553 75h4v4h-4zM541 79h4v4h-4z"/>
<path fill="#e4e4e4" d="M553 67h4v4h-4zM545 79h4v4h-4z"/>
<path fill="#e7e7e7" d="M549 63h4v4h-4zM537 75h4v4h-4z"/>
<path fill="#eaeaea" d="M541 63h4v4h-4zM537 67h4v4h-4zM553 71h4v4h-4z"/>
<path fill="#efefef" d="M545 63h4v4h-4zM537 71h4v4h-4z"/>
<path fill="#f2f2f2" d="M549 75h4v4h-4z"/>
<path fill="#f4f4f4" d="M541 75h4v4h-4z"/>
<path fill="#f7f7f7" d="M549 67h4v4h-4z"/>
<path fill="#fafafa" d="M541 67h4v4h-4zM545 75h4v4h-4z"/>
<path fill="#fcfcfc" d="M549 71h4v4h-4z"/>
<path fill="#ffffff" d="M545 67h4v4h-4zM541 71h8v4h-8z"/>
</g></g>
<line x1="505" y1="72.45" x2="588.3" y2="72.45" stroke="#9ba0ae" stroke-width="1" stroke-dasharray="3.2 3.4"/>
<line x1="546.25" y1="31" x2="546.25" y2="114" stroke="#9ba0ae" stroke-width="1" stroke-dasharray="3.2 3.4" stroke-dashoffset="-0.3"/>
<text x="635.85" y="28.6" text-anchor="middle" font-size="13.5">Inverse</text>
<clipPath id="cpc1"><rect x="594.2" y="31" width="83.3" height="83"/></clipPath>
<g clip-path="url(#cpc1)"><g filter="url(#hot)">
<rect x="582.2" y="19" width="108" height="108" fill="#000"/>
<path fill="#363636" d="M638.2 91h4v4h-4z"/>
<path fill="#383838" d="M634.2 87h8v4h-8zM634.2 91h4v4h-4zM642.2 91h4v4h-4zM638.2 95h4v4h-4z"/>
<path fill="#3b3b3b" d="M630.2 87h4v4h-4zM642.2 87h4v4h-4zM630.2 91h4v4h-4zM646.2 91h4v4h-4zM634.2 95h4v4h-4zM642.2 95h4v4h-4z"/>
<path fill="#3e3e3e" d="M634.2 83h12v4h-12zM646.2 87h4v4h-4zM630.2 95h4v4h-4zM646.2 95h4v4h-4zM634.2 99h8v4h-8z"/>
<path fill="#404040" d="M630.2 83h4v4h-4zM646.2 83h4v4h-4zM626.2 87h4v4h-4zM650.2 87h4v4h-4zM626.2 91h4v4h-4zM650.2 91h4v4h-4zM626.2 95h4v4h-4zM630.2 99h4v4h-4zM642.2 99h4v4h-4z"/>
<path fill="#434343" d="M634.2 79h12v4h-12zM626.2 83h4v4h-4zM650.2 95h4v4h-4zM646.2 99h4v4h-4z"/>
<path fill="#464646" d="M630.2 79h4v4h-4zM646.2 79h4v4h-4zM650.2 83h4v4h-4zM622.2 87h4v4h-4zM654.2 87h4v4h-4zM622.2 91h4v4h-4zM654.2 91h4v4h-4zM622.2 95h4v4h-4zM626.2 99h4v4h-4zM650.2 99h4v4h-4zM634.2 103h12v4h-12z"/>
<path fill="#484848" d="M646.2 47h8v4h-8zM650.2 51h4v4h-4zM634.2 75h12v4h-12zM626.2 79h4v4h-4zM650.2 79h4v4h-4zM622.2 83h4v4h-4zM654.2 83h4v4h-4zM654.2 95h4v4h-4zM630.2 103h4v4h-4zM646.2 103h4v4h-4z"/>
<path fill="#4b4b4b" d="M638.2 43h16v4h-16zM642.2 47h4v4h-4zM654.2 47h4v4h-4zM642.2 51h8v4h-8zM654.2 51h8v4h-8zM650.2 55h12v4h-12zM626.2 75h8v4h-8zM646.2 75h8v4h-8zM622.2 79h4v4h-4zM654.2 79h4v4h-4zM618.2 83h4v4h-4zM618.2 87h4v4h-4zM658.2 87h4v4h-4zM618.2 91h4v4h-4zM658.2 91h4v4h-4zM618.2 95h4v4h-4zM622.2 99h4v4h-4zM654.2 99h4v4h-4zM626.2 103h4v4h-4zM650.2 103h4v4h-4z"/>
<path fill="#4e4e4e" d="M634.2 39h16v4h-16zM634.2 43h4v4h-4zM654.2 43h4v4h-4zM638.2 47h4v4h-4zM658.2 47h4v4h-4zM638.2 51h4v4h-4zM662.2 51h4v4h-4zM642.2 55h8v4h-8zM662.2 55h4v4h-4zM646.2 59h20v4h-20zM630.2 71h20v4h-20zM622.2 75h4v4h-4zM654.2 75h4v4h-4zM618.2 79h4v4h-4zM658.2 83h4v4h-4zM658.2 95h4v4h-4zM618.2 99h4v4h-4zM622.2 103h4v4h-4zM630.2 107h16v4h-16z"/>
<path fill="#515151" d="M630.2 35h16v4h-16zM630.2 39h4v4h-4zM650.2 39h4v4h-4zM630.2 43h4v4h-4zM658.2 43h4v4h-4zM634.2 47h4v4h-4zM662.2 47h4v4h-4zM634.2 51h4v4h-4zM666.2 51h4v4h-4zM638.2 55h4v4h-4zM666.2 55h4v4h-4zM638.2 59h8v4h-8zM666.2 59h8v4h-8zM638.2 63h32v4h-32zM630.2 67h32v4h-32zM622.2 71h8v4h-8zM650.2 71h8v4h-8zM618.2 75h4v4h-4zM658.2 75h4v4h-4zM658.2 79h4v4h-4zM614.2 83h4v4h-4zM614.2 87h4v4h-4zM662.2 87h4v4h-4zM614.2 91h4v4h-4zM662.2 91h4v4h-4zM614.2 95h4v4h-4zM658.2 99h4v4h-4zM654.2 103h4v4h-4zM626.2 107h4v4h-4zM646.2 107h4v4h-4z"/>
<path fill="#535353" d="M630.2 31h12v4h-12zM626.2 35h4v4h-4zM646.2 35h8v4h-8zM626.2 39h4v4h-4zM654.2 39h4v4h-4zM626.2 43h4v4h-4zM662.2 43h4v4h-4zM630.2 47h4v4h-4zM666.2 47h4v4h-4zM630.2 51h4v4h-4zM670.2 51h4v4h-4zM630.2 55h8v4h-8zM670.2 55h4v4h-4zM630.2 59h8v4h-8zM674.2 59h4v4h-4zM626.2 63h12v4h-12zM670.2 63h8v4h-8zM622.2 67h8v4h-8zM662.2 67h12v4h-12zM618.2 71h4v4h-4zM658.2 71h8v4h-8zM614.2 75h4v4h-4zM662.2 75h4v4h-4zM614.2 79h4v4h-4zM662.2 79h4v4h-4zM662.2 83h4v4h-4zM610.2 87h4v4h-4zM610.2 91h4v4h-4zM662.2 95h4v4h-4zM614.2 99h4v4h-4zM662.2 99h4v4h-4zM618.2 103h4v4h-4zM658.2 103h4v4h-4zM622.2 107h4v4h-4zM650.2 107h4v4h-4zM634.2 111h8v4h-8z"/>
<path fill="#565656" d="M630.2 27h4v4h-4zM622.2 31h8v4h-8zM642.2 31h8v4h-8zM622.2 35h4v4h-4zM654.2 35h4v4h-4zM622.2 39h4v4h-4zM658.2 39h4v4h-4zM622.2 43h4v4h-4zM666.2 43h4v4h-4zM622.2 47h8v4h-8zM670.2 47h4v4h-4zM622.2 51h8v4h-8zM622.2 55h8v4h-8zM674.2 55h4v4h-4zM622.2 59h8v4h-8zM618.2 63h8v4h-8zM678.2 63h4v4h-4zM614.2 67h8v4h-8zM674.2 67h4v4h-4zM614.2 71h4v4h-4zM666.2 71h12v4h-12zM610.2 75h4v4h-4zM666.2 75h4v4h-4zM610.2 79h4v4h-4zM666.2 79h4v4h-4zM610.2 83h4v4h-4zM666.2 83h4v4h-4zM666.2 87h4v4h-4zM666.2 91h4v4h-4zM610.2 95h4v4h-4zM666.2 95h4v4h-4zM610.2 99h4v4h-4zM614.2 103h4v4h-4zM662.2 103h4v4h-4zM618.2 107h4v4h-4zM654.2 107h4v4h-4zM626.2 111h8v4h-8zM642.2 111h12v4h-12z"/>
<path fill="#595959" d="M618.2 27h12v4h-12zM634.2 27h12v4h-12zM618.2 31h4v4h-4zM650.2 31h4v4h-4zM618.2 35h4v4h-4zM658.2 35h4v4h-4zM618.2 39h4v4h-4zM662.2 39h4v4h-4zM618.2 43h4v4h-4zM670.2 43h4v4h-4zM618.2 47h4v4h-4zM614.2 51h8v4h-8zM674.2 51h4v4h-4zM614.2 55h8v4h-8zM678.2 55h4v4h-4zM610.2 59h12v4h-12zM678.2 59h4v4h-4zM610.2 63h8v4h-8zM682.2 63h4v4h-4zM610.2 67h4v4h-4zM678.2 67h8v4h-8zM606.2 71h8v4h-8zM678.2 71h4v4h-4zM606.2 75h4v4h-4zM670.2 75h8v4h-8zM606.2 79h4v4h-4zM670.2 79h8v4h-8zM606.2 83h4v4h-4zM670.2 83h4v4h-4zM606.2 87h4v4h-4zM670.2 87h4v4h-4zM606.2 91h4v4h-4zM670.2 91h4v4h-4zM606.2 95h4v4h-4zM670.2 95h4v4h-4zM606.2 99h4v4h-4zM666.2 99h4v4h-4zM610.2 103h4v4h-4zM666.2 103h4v4h-4zM614.2 107h4v4h-4zM658.2 107h8v4h-8zM622.2 111h4v4h-4zM654.2 111h4v4h-4zM630.2 115h16v4h-16z"/>
<path fill="#5b5b5b" d="M614.2 23h32v4h-32zM610.2 27h8v4h-8zM646.2 27h8v4h-8zM610.2 31h8v4h-8zM654.2 31h8v4h-8zM610.2 35h8v4h-8zM662.2 35h8v4h-8zM610.2 39h8v4h-8zM666.2 39h8v4h-8zM610.2 43h8v4h-8zM674.2 43h4v4h-4zM606.2 47h12v4h-12zM674.2 47h8v4h-8zM606.2 51h8v4h-8zM678.2 51h4v4h-4zM602.2 55h12v4h-12zM682.2 55h4v4h-4zM602.2 59h8v4h-8zM682.2 59h8v4h-8zM602.2 63h8v4h-8zM686.2 63h4v4h-4zM602.2 67h8v4h-8zM686.2 67h4v4h-4zM598.2 71h8v4h-8zM682.2 71h8v4h-8zM598.2 75h8v4h-8zM678.2 75h12v4h-12zM598.2 79h8v4h-8zM678.2 79h8v4h-8zM598.2 83h8v4h-8zM674.2 83h8v4h-8zM598.2 87h8v4h-8zM674.2 87h4v4h-4zM602.2 91h4v4h-4zM674.2 91h4v4h-4zM602.2 95h4v4h-4zM674.2 95h4v4h-4zM602.2 99h4v4h-4zM670.2 99h4v4h-4zM606.2 103h4v4h-4zM670.2 103h4v4h-4zM610.2 107h4v4h-4zM666.2 107h4v4h-4zM614.2 111h8v4h-8zM658.2 111h8v4h-8zM622.2 115h8v4h-8zM646.2 115h12v4h-12z"/>
<path fill="#5e5e5e" d="M606.2 19h48v4h-48zM602.2 23h12v4h-12zM646.2 23h16v4h-16zM602.2 27h8v4h-8zM654.2 27h16v4h-16zM602.2 31h8v4h-8zM662.2 31h12v4h-12zM602.2 35h8v4h-8zM670.2 35h8v4h-8zM598.2 39h12v4h-12zM674.2 39h8v4h-8zM598.2 43h12v4h-12zM678.2 43h8v4h-8zM594.2 47h12v4h-12zM682.2 47h8v4h-8zM594.2 51h12v4h-12zM682.2 51h8v4h-8zM590.2 55h12v4h-12zM686.2 55h4v4h-4zM590.2 59h12v4h-12zM590.2 63h12v4h-12zM590.2 67h12v4h-12zM590.2 71h8v4h-8zM590.2 75h8v4h-8zM590.2 79h8v4h-8zM686.2 79h4v4h-4zM590.2 83h8v4h-8zM682.2 83h8v4h-8zM590.2 87h8v4h-8zM678.2 87h12v4h-12zM590.2 91h12v4h-12zM678.2 91h8v4h-8zM594.2 95h8v4h-8zM678.2 95h8v4h-8zM594.2 99h8v4h-8zM674.2 99h8v4h-8zM598.2 103h8v4h-8zM674.2 103h8v4h-8zM602.2 107h8v4h-8zM670.2 107h8v4h-8zM602.2 111h12v4h-12zM666.2 111h8v4h-8zM610.2 115h12v4h-12zM658.2 115h12v4h-12zM614.2 119h48v4h-48zM626.2 123h24v4h-24z"/>
<path fill="#616161" d="M582.2 19h24v4h-24zM654.2 19h36v4h-36zM582.2 23h20v4h-20zM662.2 23h28v4h-28zM582.2 27h20v4h-20zM670.2 27h20v4h-20zM582.2 31h20v4h-20zM674.2 31h16v4h-16zM582.2 35h20v4h-20zM678.2 35h12v4h-12zM582.2 39h16v4h-16zM682.2 39h8v4h-8zM582.2 43h16v4h-16zM686.2 43h4v4h-4zM582.2 47h12v4h-12zM582.2 51h12v4h-12zM582.2 55h8v4h-8zM582.2 59h8v4h-8zM582.2 63h8v4h-8zM582.2 67h8v4h-8zM582.2 71h8v4h-8zM582.2 75h8v4h-8zM582.2 79h8v4h-8zM582.2 83h8v4h-8zM582.2 87h8v4h-8zM582.2 91h8v4h-8zM686.2 91h4v4h-4zM582.2 95h12v4h-12zM686.2 95h4v4h-4zM582.2 99h12v4h-12zM682.2 99h8v4h-8zM582.2 103h16v4h-16zM682.2 103h8v4h-8zM582.2 107h20v4h-20zM678.2 107h12v4h-12zM582.2 111h20v4h-20zM674.2 111h16v4h-16zM582.2 115h28v4h-28zM670.2 115h20v4h-20zM582.2 119h32v4h-32zM662.2 119h28v4h-28zM582.2 123h44v4h-44zM650.2 123h40v4h-40z"/>
</g></g>
<line x1="594.2" y1="72.45" x2="677.5" y2="72.45" stroke="#9ba0ae" stroke-width="1" stroke-dasharray="3.2 3.4"/>
<line x1="635.45" y1="31" x2="635.45" y2="114" stroke="#9ba0ae" stroke-width="1" stroke-dasharray="3.2 3.4" stroke-dashoffset="-0.3"/>
<rect x="494.9" y="31" width="6.6" height="83" fill="url(#cbar)"/>
<line x1="505" y1="118.2" x2="527.6" y2="118.2" stroke="#000" stroke-width="1.3"/>
<text x="507" y="130.6" text-anchor="start" font-size="13.5">15&#176;</text>
<line x1="56.5" y1="30.7" x2="56.5" y2="114.5" stroke="#000" stroke-width="1.3"/>
<line x1="54" y1="114" x2="56.5" y2="114" stroke="#000" stroke-width="1.2"/>
<text x="51.6" y="118.7" text-anchor="end" font-size="13.5">0</text>
<line x1="54" y1="88.45" x2="56.5" y2="88.45" stroke="#000" stroke-width="1.2"/>
<text x="51.6" y="93.15" text-anchor="end" font-size="13.5">0.3</text>
<line x1="54" y1="62.9" x2="56.5" y2="62.9" stroke="#000" stroke-width="1.2"/>
<text x="51.6" y="67.6" text-anchor="end" font-size="13.5">0.6</text>
<line x1="54" y1="37.35" x2="56.5" y2="37.35" stroke="#000" stroke-width="1.2"/>
<text x="51.6" y="42.05" text-anchor="end" font-size="13.5">0.9</text>
<line x1="273.3" y1="30.7" x2="273.3" y2="114.5" stroke="#000" stroke-width="1.3"/>
<line x1="270.8" y1="114" x2="273.3" y2="114" stroke="#000" stroke-width="1.2"/>
<text x="269.3" y="118.7" text-anchor="end" font-size="13.5">0</text>
<line x1="270.8" y1="91.2" x2="273.3" y2="91.2" stroke="#000" stroke-width="1.2"/>
<text x="269.3" y="95.9" text-anchor="end" font-size="13.5">0.2</text>
<line x1="270.8" y1="68.4" x2="273.3" y2="68.4" stroke="#000" stroke-width="1.2"/>
<text x="269.3" y="73.1" text-anchor="end" font-size="13.5">0.4</text>
<line x1="270.8" y1="45.6" x2="273.3" y2="45.6" stroke="#000" stroke-width="1.2"/>
<text x="269.3" y="50.3" text-anchor="end" font-size="13.5">0.6</text>
<line x1="490.7" y1="30.7" x2="490.7" y2="114.5" stroke="#000" stroke-width="1.3"/>
<line x1="488.2" y1="114" x2="490.7" y2="114" stroke="#000" stroke-width="1.2"/>
<text x="486.7" y="118.7" text-anchor="end" font-size="13.5">0</text>
<line x1="488.2" y1="73.24" x2="490.7" y2="73.24" stroke="#000" stroke-width="1.2"/>
<text x="486.7" y="77.94" text-anchor="end" font-size="13.5">0.4</text>
<line x1="488.2" y1="32.48" x2="490.7" y2="32.48" stroke="#000" stroke-width="1.2"/>
<text x="486.7" y="37.18" text-anchor="end" font-size="13.5">0.8</text>
<line x1="488.9" y1="93.62" x2="490.7" y2="93.62" stroke="#000" stroke-width="1"/>
<line x1="488.9" y1="52.86" x2="490.7" y2="52.86" stroke="#000" stroke-width="1"/>
<text transform="translate(11.5 74) rotate(-90)" text-anchor="middle" font-size="13">Response</text>
<text transform="translate(27 74) rotate(-90)" text-anchor="middle" font-size="13.1">(norm. &#916;<tspan font-style="italic">F</tspan>/<tspan font-style="italic">F</tspan>)</text>
<line x1="53.2" y1="295.4" x2="242.44" y2="295.4" stroke="#000" stroke-width="1.4"/>
<line x1="74.96" y1="295.4" x2="74.96" y2="292.7" stroke="#000" stroke-width="1.3"/>
<line x1="95.82" y1="295.4" x2="95.82" y2="292.7" stroke="#000" stroke-width="1.3"/>
<line x1="116.68" y1="295.4" x2="116.68" y2="292.7" stroke="#000" stroke-width="1.3"/>
<line x1="137.54" y1="295.4" x2="137.54" y2="292.7" stroke="#000" stroke-width="1.3"/>
<line x1="158.4" y1="295.4" x2="158.4" y2="292.7" stroke="#000" stroke-width="1.3"/>
<line x1="179.26" y1="295.4" x2="179.26" y2="292.7" stroke="#000" stroke-width="1.3"/>
<line x1="200.12" y1="295.4" x2="200.12" y2="292.7" stroke="#000" stroke-width="1.3"/>
<line x1="220.98" y1="295.4" x2="220.98" y2="292.7" stroke="#000" stroke-width="1.3"/>
<line x1="241.84" y1="295.4" x2="241.84" y2="292.7" stroke="#000" stroke-width="1.3"/>
<text x="53.8" y="310.6" text-anchor="middle" font-size="13.5">0</text>
<text x="116.38" y="310.6" text-anchor="middle" font-size="13.5">30</text>
<text x="178.96" y="310.6" text-anchor="middle" font-size="13.5">60</text>
<text x="241.54" y="310.6" text-anchor="middle" font-size="13.5">90</text>
<text x="155.67" y="324.3" text-anchor="middle" font-size="13.5">Stimulus size (<tspan font-size="10" dy="-2.2">&#176;</tspan><tspan dy="2.2">)</tspan></text>
<line x1="53.8" y1="147.82" x2="53.8" y2="296" stroke="#000" stroke-width="1.3"/>
<line x1="53.8" y1="290" x2="56.6" y2="290" stroke="#000" stroke-width="1.1"/>
<text x="51.8" y="293.4" text-anchor="end" font-size="13.5">0</text>
<line x1="53.8" y1="249.52" x2="56.6" y2="249.52" stroke="#000" stroke-width="1.1"/>
<text x="51" y="254.22" text-anchor="end" font-size="13.5">0.4</text>
<line x1="53.8" y1="209.04" x2="56.6" y2="209.04" stroke="#000" stroke-width="1.1"/>
<text x="51" y="213.74" text-anchor="end" font-size="13.5">0.8</text>
<line x1="53.8" y1="168.56" x2="56.6" y2="168.56" stroke="#000" stroke-width="1.1"/>
<text x="51" y="173.26" text-anchor="end" font-size="13.5">1.2</text>
<line x1="53.8" y1="269.76" x2="56.6" y2="269.76" stroke="#000" stroke-width="1.1"/>
<line x1="53.8" y1="229.28" x2="56.6" y2="229.28" stroke="#000" stroke-width="1.1"/>
<line x1="53.8" y1="188.8" x2="56.6" y2="188.8" stroke="#000" stroke-width="1.1"/>
<line x1="53.8" y1="148.32" x2="56.6" y2="148.32" stroke="#000" stroke-width="1.1"/>
<text transform="translate(27 218.5) rotate(-90)" text-anchor="middle" font-size="12.6">Response (norm. &#916;<tspan font-style="italic">F</tspan>/<tspan font-style="italic">F</tspan>)</text>
<path d="M53.8 290C54.02 286.33 54.6 275.5 55.1 268C55.6 260.5 56.15 251.67 56.8 245C57.45 238.33 58.18 233.17 59 228C59.82 222.83 60.78 218.67 61.7 214C62.62 209.33 63.65 204.33 64.5 200C65.35 195.67 66.05 191.67 66.8 188C67.55 184.33 68.22 181.25 69 178C69.78 174.75 70.58 171.17 71.5 168.5C72.42 165.83 73.45 163.45 74.5 162C75.55 160.55 76.72 159.83 77.8 159.8C78.88 159.77 79.88 160.68 81 161.8C82.12 162.92 83.33 164.72 84.5 166.5C85.67 168.28 86.8 170.25 88 172.5C89.2 174.75 90.47 177.42 91.7 180C92.93 182.58 93.35 183.67 95.4 188C97.45 192.33 101.32 200.58 104 206C106.68 211.42 108.92 215.5 111.5 220.5C114.08 225.5 116.83 231.32 119.5 236C122.17 240.68 124.65 244.77 127.5 248.6C130.35 252.43 133.28 255.88 136.6 259C139.92 262.12 143.97 264.8 147.4 267.3C150.83 269.8 153.67 271.8 157.2 274C160.73 276.2 164.78 278.67 168.6 280.5C172.42 282.33 176.53 283.82 180.1 285C183.67 286.18 185.85 286.88 190 287.6C194.15 288.32 200 288.87 205 289.3C210 289.73 213.92 289.98 220 290.2C226.08 290.42 237.92 290.53 241.5 290.6" fill="none" stroke="#ff0000" stroke-width="2.2" stroke-linecap="butt" stroke-linejoin="round"/>
<path d="M53.8 290C54.05 286.33 54.68 275.5 55.3 268C55.92 260.5 56.63 251.67 57.5 245C58.37 238.33 59.43 233.08 60.5 228C61.57 222.92 62.73 218.67 63.9 214.5C65.07 210.33 66.4 205.83 67.5 203C68.6 200.17 69.38 198.77 70.5 197.5C71.62 196.23 72.95 195.45 74.2 195.4C75.45 195.35 76.7 196.02 78 197.2C79.3 198.38 80.82 200.93 82 202.5C83.18 204.07 82.87 203.62 85.1 206.6C87.33 209.58 92.92 217.15 95.4 220.4C97.88 223.65 97.7 223.43 100 226.1C102.3 228.77 105.38 232.2 109.2 236.4C113.02 240.6 118.72 247.1 122.9 251.3C127.08 255.5 130.48 258.52 134.3 261.6C138.12 264.68 141.98 267.32 145.8 269.8C149.62 272.28 153.4 274.53 157.2 276.5C161 278.47 164.78 280.13 168.6 281.6C172.42 283.07 176.28 284.28 180.1 285.3C183.92 286.32 187.35 286.98 191.5 287.7C195.65 288.42 200.25 289.08 205 289.6C209.75 290.12 213.92 290.43 220 290.8C226.08 291.17 237.92 291.63 241.5 291.8" fill="none" stroke="#000" stroke-width="2.2" stroke-linecap="butt" stroke-linejoin="round"/>
<circle cx="53.8" cy="290" r="3.85" fill="#000"/>
<line x1="64.23" y1="217.95" x2="64.23" y2="211.87" stroke="#000" stroke-width="1.6"/>
<circle cx="64.23" cy="214.91" r="3.85" fill="#000"/>
<line x1="85.09" y1="210.05" x2="85.09" y2="203.98" stroke="#000" stroke-width="1.6"/>
<circle cx="85.09" cy="207.02" r="3.85" fill="#000"/>
<line x1="105.95" y1="232.32" x2="105.95" y2="226.24" stroke="#000" stroke-width="1.6"/>
<circle cx="105.95" cy="229.28" r="3.85" fill="#000"/>
<line x1="126.81" y1="261.36" x2="126.81" y2="255.29" stroke="#000" stroke-width="1.6"/>
<circle cx="126.81" cy="258.32" r="3.85" fill="#000"/>
<line x1="147.67" y1="270.27" x2="147.67" y2="264.19" stroke="#000" stroke-width="1.6"/>
<circle cx="147.67" cy="267.23" r="3.85" fill="#000"/>
<line x1="168.53" y1="282.92" x2="168.53" y2="276.84" stroke="#000" stroke-width="1.6"/>
<circle cx="168.53" cy="279.88" r="3.85" fill="#000"/>
<line x1="189.39" y1="287.98" x2="189.39" y2="283.93" stroke="#000" stroke-width="1.6"/>
<circle cx="189.39" cy="285.95" r="3.85" fill="#000"/>
<line x1="210.25" y1="293.04" x2="210.25" y2="288.99" stroke="#000" stroke-width="1.6"/>
<circle cx="210.25" cy="291.01" r="3.85" fill="#000"/>
<line x1="231.11" y1="290.3" x2="231.11" y2="286.26" stroke="#000" stroke-width="1.6"/>
<circle cx="231.11" cy="288.28" r="3.85" fill="#000"/>
<line x1="64.23" y1="213.09" x2="64.23" y2="194.87" stroke="#ff0000" stroke-width="1.6"/>
<circle cx="64.23" cy="203.98" r="3.85" fill="#ff0000"/>
<line x1="85.09" y1="173.72" x2="85.09" y2="148.42" stroke="#ff0000" stroke-width="1.6"/>
<circle cx="85.09" cy="161.07" r="3.85" fill="#ff0000"/>
<line x1="105.95" y1="226.75" x2="105.95" y2="212.58" stroke="#ff0000" stroke-width="1.6"/>
<circle cx="105.95" cy="219.67" r="3.85" fill="#ff0000"/>
<line x1="126.81" y1="255.19" x2="126.81" y2="240.01" stroke="#ff0000" stroke-width="1.6"/>
<circle cx="126.81" cy="247.6" r="3.85" fill="#ff0000"/>
<line x1="147.67" y1="272.39" x2="147.67" y2="258.22" stroke="#ff0000" stroke-width="1.6"/>
<circle cx="147.67" cy="265.31" r="3.85" fill="#ff0000"/>
<line x1="168.53" y1="280.99" x2="168.53" y2="270.87" stroke="#ff0000" stroke-width="1.6"/>
<circle cx="168.53" cy="275.93" r="3.85" fill="#ff0000"/>
<line x1="189.39" y1="290.3" x2="189.39" y2="284.23" stroke="#ff0000" stroke-width="1.6"/>
<circle cx="189.39" cy="287.27" r="3.85" fill="#ff0000"/>
<line x1="210.25" y1="293.74" x2="210.25" y2="289.7" stroke="#ff0000" stroke-width="1.6"/>
<circle cx="210.25" cy="291.72" r="3.85" fill="#ff0000"/>
<line x1="231.11" y1="294.05" x2="231.11" y2="290" stroke="#ff0000" stroke-width="1.6"/>
<circle cx="231.11" cy="292.02" r="3.85" fill="#ff0000"/>
<path d="M73.7 141.6h8.4l-4.2 7z" fill="#000"/>
<path d="M76.5 141.6h8.4l-4.2 7z" fill="#ff0000"/>
<line x1="174.2" y1="237.5" x2="189.8" y2="237.5" stroke="#000" stroke-width="2"/>
<line x1="174.2" y1="249.5" x2="189.8" y2="249.5" stroke="#ff0000" stroke-width="2"/>
<text x="193.6" y="240.7" text-anchor="start" font-size="13.5">Classical</text>
<text x="193.6" y="252.5" text-anchor="start" font-size="13.5">Inverse</text>
<path d="M191.9 210.5L191.9 202.74h4.81L196.71 202.02h4.81L201.52 200.44h4.81L206.33 197.85h4.81L211.14 187.94h4.81L215.95 182.48h4.81L220.76 185.35h4.81L225.57 194.26h4.81L230.38 203.31h4.81L235.19 206.48h4.81L240 210.5z" fill="#b4b4b4"/>
<line x1="215.8" y1="210.5" x2="215.8" y2="162.69" stroke="#000" stroke-width="1.3" stroke-dasharray="3.4 2.2"/>
<path d="M191.9 210.5L191.9 210.5h4.81L196.71 207.91h4.81L201.52 200.44h4.81L206.33 200.44h4.81L211.14 174.57h4.81L215.95 163.08h4.81L220.76 188.94h4.81L225.57 200.44h4.81L230.38 203.31h4.81L235.19 210.5h4.81L240 210.5" fill="none" stroke="#000" stroke-width="1.3" stroke-linejoin="miter"/>
<line x1="188.4" y1="162.19" x2="188.4" y2="211.1" stroke="#000" stroke-width="1.3"/>
<line x1="187.8" y1="210.5" x2="240" y2="210.5" stroke="#000" stroke-width="1.5"/>
<line x1="188.4" y1="167.39" x2="191" y2="167.39" stroke="#000" stroke-width="1.1"/>
<line x1="188.4" y1="188.94" x2="191" y2="188.94" stroke="#000" stroke-width="1.1"/>
<text x="186" y="172.09" text-anchor="end" font-size="13.5">0.3</text>
<text x="186" y="215.5" text-anchor="end" font-size="13.5">0</text>
<text x="192.4" y="222.7" text-anchor="middle" font-size="13.5">0</text>
<text x="215.85" y="222.7" text-anchor="middle" font-size="13.5">ITI</text>
<text x="240.5" y="222.7" text-anchor="middle" font-size="13.5">1</text>
<text transform="translate(165.4 191.7) rotate(-90)" text-anchor="middle" font-size="13.5">Fraction</text>
<text x="221.6" y="155.2" text-anchor="middle" font-size="13.5">NS</text>
<path d="M213.4 157.2h8.6l-4.3 6.4z" fill="#000"/>
<line x1="272.2" y1="262.1" x2="459.31" y2="262.1" stroke="#000" stroke-width="1.3" stroke-dasharray="4.4 1.9"/>
<line x1="271.6" y1="295.4" x2="460.21" y2="295.4" stroke="#000" stroke-width="1.4"/>
<line x1="293.29" y1="295.4" x2="293.29" y2="292.7" stroke="#000" stroke-width="1.3"/>
<line x1="314.08" y1="295.4" x2="314.08" y2="292.7" stroke="#000" stroke-width="1.3"/>
<line x1="334.87" y1="295.4" x2="334.87" y2="292.7" stroke="#000" stroke-width="1.3"/>
<line x1="355.66" y1="295.4" x2="355.66" y2="292.7" stroke="#000" stroke-width="1.3"/>
<line x1="376.45" y1="295.4" x2="376.45" y2="292.7" stroke="#000" stroke-width="1.3"/>
<line x1="397.24" y1="295.4" x2="397.24" y2="292.7" stroke="#000" stroke-width="1.3"/>
<line x1="418.03" y1="295.4" x2="418.03" y2="292.7" stroke="#000" stroke-width="1.3"/>
<line x1="438.82" y1="295.4" x2="438.82" y2="292.7" stroke="#000" stroke-width="1.3"/>
<line x1="459.61" y1="295.4" x2="459.61" y2="292.7" stroke="#000" stroke-width="1.3"/>
<text x="272.2" y="310.6" text-anchor="middle" font-size="13.5">0</text>
<text x="334.57" y="310.6" text-anchor="middle" font-size="13.5">30</text>
<text x="396.94" y="310.6" text-anchor="middle" font-size="13.5">60</text>
<text x="459.31" y="310.6" text-anchor="middle" font-size="13.5">90</text>
<text x="373.75" y="324.3" text-anchor="middle" font-size="13.5">Stimulus size (<tspan font-size="10" dy="-2.2">&#176;</tspan><tspan dy="2.2">)</tspan></text>
<line x1="272.2" y1="146.68" x2="272.2" y2="296" stroke="#000" stroke-width="1.3"/>
<line x1="272.2" y1="262.1" x2="275" y2="262.1" stroke="#000" stroke-width="1.1"/>
<text x="269.4" y="266.8" text-anchor="end" font-size="13.5">0</text>
<line x1="272.2" y1="207.7" x2="275" y2="207.7" stroke="#000" stroke-width="1.1"/>
<text x="269.4" y="212.4" text-anchor="end" font-size="13.5">0.4</text>
<line x1="272.2" y1="153.3" x2="275" y2="153.3" stroke="#000" stroke-width="1.1"/>
<text x="269.4" y="158" text-anchor="end" font-size="13.5">0.8</text>
<line x1="272.2" y1="289.3" x2="275" y2="289.3" stroke="#000" stroke-width="1.1"/>
<line x1="272.2" y1="275.7" x2="275" y2="275.7" stroke="#000" stroke-width="1.1"/>
<line x1="272.2" y1="248.5" x2="275" y2="248.5" stroke="#000" stroke-width="1.1"/>
<line x1="272.2" y1="234.9" x2="275" y2="234.9" stroke="#000" stroke-width="1.1"/>
<line x1="272.2" y1="221.3" x2="275" y2="221.3" stroke="#000" stroke-width="1.1"/>
<line x1="272.2" y1="194.1" x2="275" y2="194.1" stroke="#000" stroke-width="1.1"/>
<line x1="272.2" y1="180.5" x2="275" y2="180.5" stroke="#000" stroke-width="1.1"/>
<line x1="272.2" y1="166.9" x2="275" y2="166.9" stroke="#000" stroke-width="1.1"/>
<path d="M272.2 262.1C272.83 259.92 274.45 253.9 276 249C277.55 244.1 279.98 237.2 281.5 232.7C283.02 228.2 283.77 225.7 285.1 222C286.43 218.3 288.02 213.75 289.5 210.5C290.98 207.25 292.42 204.72 294 202.5C295.58 200.28 297.18 198.4 299 197.2C300.82 196 303.07 195.37 304.9 195.3C306.73 195.23 308.15 195.6 310 196.8C311.85 198 313.8 199.88 316 202.5C318.2 205.12 320.53 208.75 323.2 212.5C325.87 216.25 329.03 221.33 332 225C334.97 228.67 338 231.75 341 234.5C344 237.25 347.23 239.5 350 241.5C352.77 243.5 354.93 245.08 357.6 246.5C360.27 247.92 362.83 249.03 366 250C369.17 250.97 372.6 251.75 376.6 252.3C380.6 252.85 384.43 253.08 390 253.3C395.57 253.52 398.45 253.55 410 253.6C421.55 253.65 451.08 253.6 459.3 253.6" fill="none" stroke="#ff0000" stroke-width="2.2" stroke-linecap="butt" stroke-linejoin="round"/>
<path d="M272.2 262.1C272.32 256.75 272.63 241.18 272.9 230C273.17 218.82 273.48 205.33 273.8 195C274.12 184.67 274.47 174.92 274.8 168C275.13 161.08 275.43 156.83 275.8 153.5C276.17 150.17 276.57 148.82 277 148C277.43 147.18 277.9 147.85 278.4 148.6C278.9 149.35 279.37 150.85 280 152.5C280.63 154.15 281.47 156.25 282.2 158.5C282.93 160.75 282.77 160.92 284.4 166C286.03 171.08 289.43 181.67 292 189C294.57 196.33 297.63 204.42 299.8 210C301.97 215.58 303.05 218.23 305 222.5C306.95 226.77 309.33 231.68 311.5 235.6C313.67 239.52 315.32 242.27 318 246C320.68 249.73 324.78 254.9 327.6 258C330.42 261.1 332.5 262.72 334.9 264.6C337.3 266.48 339.48 267.95 342 269.3C344.52 270.65 347 271.65 350 272.7C353 273.75 356.78 274.85 360 275.6C363.22 276.35 365.13 276.77 369.3 277.2C373.47 277.63 378.22 277.98 385 278.2C391.78 278.42 397.62 278.45 410 278.5C422.38 278.55 451.08 278.5 459.3 278.5" fill="none" stroke="#000" stroke-width="2.2" stroke-linecap="butt" stroke-linejoin="round"/>
<circle cx="272.2" cy="262.1" r="3.85" fill="#000"/>
<line x1="282.59" y1="157.38" x2="282.59" y2="149.22" stroke="#000" stroke-width="1.6"/>
<circle cx="282.59" cy="153.3" r="3.85" fill="#000"/>
<line x1="303.38" y1="235.04" x2="303.38" y2="222.8" stroke="#000" stroke-width="1.6"/>
<circle cx="303.38" cy="228.92" r="3.85" fill="#000"/>
<line x1="324.18" y1="253.94" x2="324.18" y2="240.34" stroke="#000" stroke-width="1.6"/>
<circle cx="324.18" cy="247.14" r="3.85" fill="#000"/>
<line x1="344.96" y1="260.06" x2="344.96" y2="247.82" stroke="#000" stroke-width="1.6"/>
<circle cx="344.96" cy="253.94" r="3.85" fill="#000"/>
<line x1="365.75" y1="279.1" x2="365.75" y2="268.22" stroke="#000" stroke-width="1.6"/>
<circle cx="365.75" cy="273.66" r="3.85" fill="#000"/>
<line x1="386.55" y1="279.1" x2="386.55" y2="268.22" stroke="#000" stroke-width="1.6"/>
<circle cx="386.55" cy="273.66" r="3.85" fill="#000"/>
<line x1="407.34" y1="285.9" x2="407.34" y2="275.02" stroke="#000" stroke-width="1.6"/>
<circle cx="407.34" cy="280.46" r="3.85" fill="#000"/>
<line x1="428.12" y1="294.06" x2="428.12" y2="285.9" stroke="#000" stroke-width="1.6"/>
<circle cx="428.12" cy="289.98" r="3.85" fill="#000"/>
<line x1="448.91" y1="288.21" x2="448.91" y2="278.69" stroke="#000" stroke-width="1.6"/>
<circle cx="448.91" cy="283.45" r="3.85" fill="#000"/>
<line x1="282.59" y1="240.88" x2="282.59" y2="227.28" stroke="#ff0000" stroke-width="1.6"/>
<circle cx="282.59" cy="234.08" r="3.85" fill="#ff0000"/>
<line x1="303.38" y1="200.49" x2="303.38" y2="180.91" stroke="#ff0000" stroke-width="1.6"/>
<circle cx="303.38" cy="190.7" r="3.85" fill="#ff0000"/>
<line x1="324.18" y1="225.11" x2="324.18" y2="206.07" stroke="#ff0000" stroke-width="1.6"/>
<circle cx="324.18" cy="215.59" r="3.85" fill="#ff0000"/>
<line x1="344.96" y1="245.64" x2="344.96" y2="227.96" stroke="#ff0000" stroke-width="1.6"/>
<circle cx="344.96" cy="236.8" r="3.85" fill="#ff0000"/>
<line x1="365.75" y1="264.82" x2="365.75" y2="251.22" stroke="#ff0000" stroke-width="1.6"/>
<circle cx="365.75" cy="257.34" r="3.85" fill="#ff0000"/>
<line x1="386.55" y1="256.39" x2="386.55" y2="241.7" stroke="#ff0000" stroke-width="1.6"/>
<circle cx="386.55" cy="249.04" r="3.85" fill="#ff0000"/>
<line x1="407.34" y1="261.15" x2="407.34" y2="248.64" stroke="#ff0000" stroke-width="1.6"/>
<circle cx="407.34" cy="254.89" r="3.85" fill="#ff0000"/>
<line x1="428.12" y1="258.29" x2="428.12" y2="244.15" stroke="#ff0000" stroke-width="1.6"/>
<circle cx="428.12" cy="251.22" r="3.85" fill="#ff0000"/>
<line x1="448.91" y1="257.75" x2="448.91" y2="246.32" stroke="#ff0000" stroke-width="1.6"/>
<circle cx="448.91" cy="252.04" r="3.85" fill="#ff0000"/>
<path d="M268.8 141.6h8.4l-4.2 7z" fill="#000"/>
<path d="M292.1 141.6h8.4l-4.2 7z" fill="#ff0000"/>
<path d="M396.6 210L396.6 201.73h4.8L401.4 200.55h4.8L406.2 199.03h4.8L411 195.48h4.8L415.8 184h4.8L420.6 177.76h4.8L425.4 180.97h4.8L430.2 191.77h4.8L435 201.22h4.8L439.8 205.27h4.8L444.6 210z" fill="#b4b4b4"/>
<line x1="420.2" y1="210" x2="420.2" y2="162.74" stroke="#000" stroke-width="1.3" stroke-dasharray="3.4 2.2"/>
<path d="M396.6 210L396.6 207.81h4.8L401.4 198.69h4.8L406.2 187.04h4.8L411 175.9h4.8L415.8 163.07h4.8L420.6 183.16h4.8L425.4 190.08h4.8L430.2 207.81h4.8L435 210h4.8L439.8 210h4.8L444.6 210" fill="none" stroke="#000" stroke-width="1.3" stroke-linejoin="miter"/>
<line x1="392.2" y1="162.24" x2="392.2" y2="210.6" stroke="#000" stroke-width="1.3"/>
<line x1="391.6" y1="210" x2="444.6" y2="210" stroke="#000" stroke-width="1.5"/>
<line x1="392.2" y1="167.8" x2="394.8" y2="167.8" stroke="#000" stroke-width="1.1"/>
<line x1="392.2" y1="188.9" x2="394.8" y2="188.9" stroke="#000" stroke-width="1.1"/>
<text x="390.4" y="172.5" text-anchor="end" font-size="13.5">0.25</text>
<text x="390.4" y="215" text-anchor="end" font-size="13.5">0</text>
<text x="396.6" y="222.2" text-anchor="middle" font-size="13.5">0</text>
<text x="420" y="222.2" text-anchor="middle" font-size="13.5">ITI</text>
<text x="444.6" y="222.2" text-anchor="middle" font-size="13.5">1</text>
<text transform="translate(363 191.7) rotate(-90)" text-anchor="middle" font-size="13.5">Fraction</text>
<text x="419.3" y="156.5" text-anchor="middle" font-size="12" letter-spacing="0.3">***</text>
<line x1="417.1" y1="154.6" x2="422.2" y2="154.6" stroke="#000" stroke-width="1.3"/>
<path d="M418.1 156.9h8.6l-4.3 6.5z" fill="#aaaaaa"/>
<path d="M413 156.9h8.6l-4.3 6.5z" fill="#000"/>
<line x1="489.3" y1="295.4" x2="677.91" y2="295.4" stroke="#000" stroke-width="1.4"/>
<line x1="510.99" y1="295.4" x2="510.99" y2="292.7" stroke="#000" stroke-width="1.3"/>
<line x1="531.78" y1="295.4" x2="531.78" y2="292.7" stroke="#000" stroke-width="1.3"/>
<line x1="552.57" y1="295.4" x2="552.57" y2="292.7" stroke="#000" stroke-width="1.3"/>
<line x1="573.36" y1="295.4" x2="573.36" y2="292.7" stroke="#000" stroke-width="1.3"/>
<line x1="594.15" y1="295.4" x2="594.15" y2="292.7" stroke="#000" stroke-width="1.3"/>
<line x1="614.94" y1="295.4" x2="614.94" y2="292.7" stroke="#000" stroke-width="1.3"/>
<line x1="635.73" y1="295.4" x2="635.73" y2="292.7" stroke="#000" stroke-width="1.3"/>
<line x1="656.52" y1="295.4" x2="656.52" y2="292.7" stroke="#000" stroke-width="1.3"/>
<line x1="677.31" y1="295.4" x2="677.31" y2="292.7" stroke="#000" stroke-width="1.3"/>
<text x="489.9" y="310.6" text-anchor="middle" font-size="13.5">0</text>
<text x="552.27" y="310.6" text-anchor="middle" font-size="13.5">30</text>
<text x="614.64" y="310.6" text-anchor="middle" font-size="13.5">60</text>
<text x="677.01" y="310.6" text-anchor="middle" font-size="13.5">90</text>
<text x="591.45" y="324.3" text-anchor="middle" font-size="13.5">Stimulus size (<tspan font-size="10" dy="-2.2">&#176;</tspan><tspan dy="2.2">)</tspan></text>
<line x1="489.9" y1="147.73" x2="489.9" y2="296" stroke="#000" stroke-width="1.3"/>
<line x1="489.9" y1="295.3" x2="492.7" y2="295.3" stroke="#000" stroke-width="1.1"/>
<text x="487.4" y="298.9" text-anchor="end" font-size="13.5">0</text>
<line x1="489.9" y1="232.54" x2="492.7" y2="232.54" stroke="#000" stroke-width="1.1"/>
<text x="487.1" y="237.24" text-anchor="end" font-size="13.5">0.3</text>
<line x1="489.9" y1="169.78" x2="492.7" y2="169.78" stroke="#000" stroke-width="1.1"/>
<text x="487.1" y="174.48" text-anchor="end" font-size="13.5">0.6</text>
<line x1="489.9" y1="274.38" x2="492.7" y2="274.38" stroke="#000" stroke-width="1.1"/>
<line x1="489.9" y1="253.46" x2="492.7" y2="253.46" stroke="#000" stroke-width="1.1"/>
<line x1="489.9" y1="211.62" x2="492.7" y2="211.62" stroke="#000" stroke-width="1.1"/>
<line x1="489.9" y1="190.7" x2="492.7" y2="190.7" stroke="#000" stroke-width="1.1"/>
<line x1="489.9" y1="148.86" x2="492.7" y2="148.86" stroke="#000" stroke-width="1.1"/>
<line x1="489.9" y1="215.9" x2="677" y2="270.6" stroke="#ff0000" stroke-width="2.2"/>
<path d="M489.9 295.3C490.58 291.92 492.52 282.55 494 275C495.48 267.45 497.15 259.5 498.8 250C500.45 240.5 502.07 227.18 503.9 218C505.73 208.82 507.85 201.23 509.8 194.9C511.75 188.57 513.9 184.07 515.6 180C517.3 175.93 518.53 173.25 520 170.5C521.47 167.75 522.73 165.42 524.4 163.5C526.07 161.58 528.07 160.08 530 159C531.93 157.92 534.07 157.4 536 157C537.93 156.6 539.27 156.47 541.6 156.6C543.93 156.73 546.93 157.35 550 157.8C553.07 158.25 556.67 158.85 560 159.3C563.33 159.75 565.83 160.15 570 160.5C574.17 160.85 578.33 161.2 585 161.4C591.67 161.6 594.67 161.65 610 161.7C625.33 161.75 665.83 161.7 677 161.7" fill="none" stroke="#000" stroke-width="2.2" stroke-linecap="butt" stroke-linejoin="round"/>
<circle cx="489.9" cy="295.3" r="3.85" fill="#000"/>
<circle cx="500.29" cy="263.29" r="3.85" fill="#000"/>
<line x1="521.09" y1="162.67" x2="521.09" y2="152.21" stroke="#000" stroke-width="1.6"/>
<circle cx="521.09" cy="157.44" r="3.85" fill="#000"/>
<line x1="541.88" y1="161.2" x2="541.88" y2="153.67" stroke="#000" stroke-width="1.6"/>
<circle cx="541.88" cy="157.44" r="3.85" fill="#000"/>
<line x1="562.66" y1="181.08" x2="562.66" y2="173.55" stroke="#000" stroke-width="1.6"/>
<circle cx="562.66" cy="177.31" r="3.85" fill="#000"/>
<line x1="583.45" y1="174.17" x2="583.45" y2="166.64" stroke="#000" stroke-width="1.6"/>
<circle cx="583.45" cy="170.41" r="3.85" fill="#000"/>
<line x1="604.25" y1="156.39" x2="604.25" y2="148.86" stroke="#000" stroke-width="1.6"/>
<circle cx="604.25" cy="152.63" r="3.85" fill="#000"/>
<line x1="625.03" y1="155.76" x2="625.03" y2="148.23" stroke="#000" stroke-width="1.6"/>
<circle cx="625.03" cy="152" r="3.85" fill="#000"/>
<line x1="645.83" y1="164.76" x2="645.83" y2="157.23" stroke="#000" stroke-width="1.6"/>
<circle cx="645.83" cy="160.99" r="3.85" fill="#000"/>
<line x1="666.62" y1="164.34" x2="666.62" y2="156.81" stroke="#000" stroke-width="1.6"/>
<circle cx="666.62" cy="160.58" r="3.85" fill="#000"/>
<line x1="500.29" y1="214.34" x2="500.29" y2="201.79" stroke="#ff0000" stroke-width="1.6"/>
<circle cx="500.29" cy="208.06" r="3.85" fill="#ff0000"/>
<line x1="521.09" y1="238.82" x2="521.09" y2="224.8" stroke="#ff0000" stroke-width="1.6"/>
<circle cx="521.09" cy="231.49" r="3.85" fill="#ff0000"/>
<line x1="541.88" y1="245.51" x2="541.88" y2="235.05" stroke="#ff0000" stroke-width="1.6"/>
<circle cx="541.88" cy="240.07" r="3.85" fill="#ff0000"/>
<line x1="562.66" y1="250.11" x2="562.66" y2="238.4" stroke="#ff0000" stroke-width="1.6"/>
<circle cx="562.66" cy="244.26" r="3.85" fill="#ff0000"/>
<line x1="583.45" y1="248.65" x2="583.45" y2="236.93" stroke="#ff0000" stroke-width="1.6"/>
<circle cx="583.45" cy="242.79" r="3.85" fill="#ff0000"/>
<line x1="604.25" y1="249.07" x2="604.25" y2="237.35" stroke="#ff0000" stroke-width="1.6"/>
<circle cx="604.25" cy="243.21" r="3.85" fill="#ff0000"/>
<line x1="625.03" y1="255.13" x2="625.03" y2="244.67" stroke="#ff0000" stroke-width="1.6"/>
<circle cx="625.03" cy="249.9" r="3.85" fill="#ff0000"/>
<line x1="645.83" y1="265.8" x2="645.83" y2="255.76" stroke="#ff0000" stroke-width="1.6"/>
<circle cx="645.83" cy="260.78" r="3.85" fill="#ff0000"/>
<line x1="666.62" y1="275.84" x2="666.62" y2="268.31" stroke="#ff0000" stroke-width="1.6"/>
<circle cx="666.62" cy="272.08" r="3.85" fill="#ff0000"/>
<path d="M501 141.7h8.4l-4.2 7z" fill="#ff0000"/>
<path d="M555 141.7h8.4l-4.2 7z" fill="#000"/>
<path d="M629 230.3L629 225.98h4.8L633.8 225.21h4.8L638.6 223.96h4.8L643.4 220.51h4.8L648.2 214.56h4.8L653 211h4.8L657.8 213.5h4.8L662.6 218.97h4.8L667.4 225.21h4.8L672.2 227.04h4.8L677 230.3z" fill="#b4b4b4"/>
<line x1="652.8" y1="230.3" x2="652.8" y2="182.68" stroke="#000" stroke-width="1.3" stroke-dasharray="3.4 2.2"/>
<path d="M629 230.3L629 182.68h4.8L633.8 219.74h4.8L638.6 223.39h4.8L643.4 218.68h4.8L648.2 222.04h4.8L653 225.98h4.8L657.8 227.04h4.8L662.6 227.8h4.8L667.4 228.19h4.8L672.2 227.8h4.8L677 230.3" fill="none" stroke="#000" stroke-width="1.3" stroke-linejoin="miter"/>
<line x1="624.6" y1="182.18" x2="624.6" y2="230.9" stroke="#000" stroke-width="1.3"/>
<line x1="624" y1="230.3" x2="677" y2="230.3" stroke="#000" stroke-width="1.5"/>
<line x1="624.6" y1="187.1" x2="627.2" y2="187.1" stroke="#000" stroke-width="1.1"/>
<line x1="624.6" y1="208.7" x2="627.2" y2="208.7" stroke="#000" stroke-width="1.1"/>
<text x="617.2" y="191.8" text-anchor="end" font-size="13.5">0.45</text>
<text x="617.2" y="235.3" text-anchor="end" font-size="13.5">0</text>
<text x="628" y="242.5" text-anchor="middle" font-size="13.5">0</text>
<text x="651.4" y="242.5" text-anchor="middle" font-size="13.5">ITI</text>
<text x="676" y="242.5" text-anchor="middle" font-size="13.5">1</text>
<text transform="translate(589.4 210.5) rotate(-90)" text-anchor="middle" font-size="13.5">Fraction</text>
<text x="644.4" y="176" text-anchor="middle" font-size="12" letter-spacing="0.3">***</text>
<line x1="634" y1="174.3" x2="655" y2="174.3" stroke="#000" stroke-width="1.3"/>
<path d="M650.2 176.5h8.6l-4.3 6.9z" fill="#aaaaaa"/>
<path d="M630.2 176.5h8.6l-4.3 6.9z" fill="#000"/>
</svg></body></html>
